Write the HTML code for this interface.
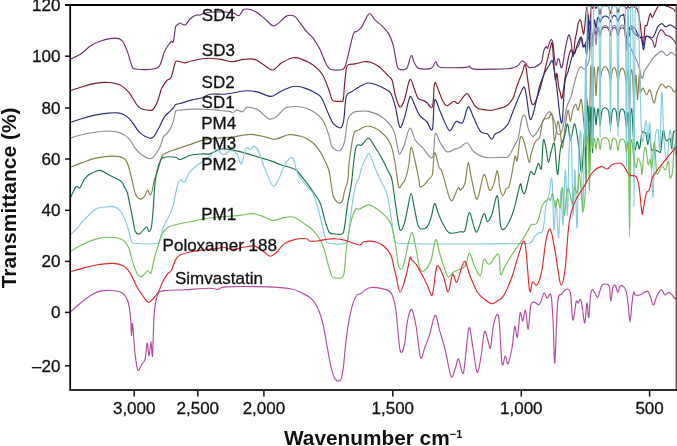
<!DOCTYPE html>
<html><head><meta charset="utf-8"><style>
html,body{margin:0;padding:0;background:#fff;}
svg{display:block;}
svg{will-change:transform}
text{font-family:"Liberation Sans",sans-serif;fill:#111;}
</style></head><body>
<svg width="677" height="446" viewBox="0 0 677 446">
<defs><clipPath id="pc"><rect x="70" y="4.5" width="606" height="385"/></clipPath></defs>
<g clip-path="url(#pc)" fill="none" stroke-width="1.15" stroke-linejoin="round">
<path d="M70.00,59.50C71.92,58.48 78.10,55.65 81.50,53.40C84.90,51.15 87.05,48.10 90.40,46.00C93.75,43.90 97.67,42.12 101.60,40.80C105.53,39.48 110.63,38.17 114.00,38.10C117.37,38.03 119.57,38.15 121.80,40.40C124.03,42.65 125.72,47.32 127.40,51.60C129.08,55.88 130.58,63.20 131.90,66.10C133.22,69.00 131.90,68.52 135.30,69.00C138.85,69.48 149.10,69.67 153.20,69.00C157.30,68.33 158.03,67.90 159.90,65.00C161.77,62.10 163.08,54.77 164.40,51.60C165.72,48.43 166.68,47.68 167.80,46.00C168.92,44.32 170.17,42.25 171.10,41.50C172.03,40.75 172.65,43.93 173.40,41.50C174.15,39.07 174.85,29.70 175.60,26.90C176.35,24.10 177.17,25.35 177.90,24.70C178.63,24.05 178.82,22.95 180.00,23.00C181.18,23.05 183.33,25.67 185.00,25.00C186.67,24.33 188.20,20.63 190.00,19.00C191.80,17.37 194.13,15.87 195.80,15.20C197.47,14.53 198.47,15.37 200.00,15.00C201.53,14.63 202.50,13.50 205.00,13.00C207.50,12.50 211.67,12.17 215.00,12.00C218.33,11.83 222.17,11.83 225.00,12.00C227.83,12.17 230.38,12.75 232.00,13.00C233.62,13.25 233.52,13.05 234.70,13.50C235.88,13.95 237.72,16.28 239.10,15.70C240.48,15.12 241.68,11.12 243.00,10.00C244.32,8.88 245.03,8.80 247.00,9.00C248.97,9.20 252.00,9.72 254.80,11.20C257.60,12.68 260.80,15.47 263.80,17.90C266.80,20.33 270.18,25.05 272.80,25.80C275.42,26.55 277.27,24.02 279.50,22.40C281.73,20.78 283.77,17.15 286.20,16.10C288.63,15.05 291.85,15.05 294.10,16.10C296.35,17.15 297.65,19.85 299.70,22.40C301.75,24.95 304.17,28.78 306.40,31.40C308.63,34.02 310.85,35.12 313.10,38.10C315.35,41.08 317.65,44.82 319.90,49.30C322.15,53.78 324.73,61.63 326.60,65.00C328.47,68.37 328.48,68.75 331.10,69.50C333.72,70.25 339.88,70.25 342.30,69.50C344.72,68.75 344.48,67.98 345.60,65.00C346.72,62.02 347.68,56.83 349.00,51.60C350.32,46.37 352.13,36.97 353.50,33.60C354.87,30.23 355.83,32.52 357.20,31.40C358.57,30.28 360.38,28.77 361.70,26.90C363.02,25.03 363.78,22.43 365.10,20.20C366.42,17.97 367.92,13.50 369.60,13.50C371.28,13.50 373.15,18.15 375.20,20.20C377.25,22.25 379.67,23.57 381.90,25.80C384.13,28.03 386.73,30.43 388.60,33.60C390.47,36.77 391.78,39.93 393.10,44.80C394.42,49.67 395.57,58.75 396.50,62.80C397.43,66.85 397.02,68.17 398.70,69.10C400.38,70.03 404.53,70.65 406.60,68.40C408.67,66.15 409.80,56.53 411.10,55.60C412.40,54.67 413.10,60.67 414.40,62.80C415.70,64.93 416.10,67.47 418.90,68.40C421.70,69.33 428.40,69.52 431.20,68.40C434.00,67.28 434.20,61.88 435.70,61.70C437.20,61.52 435.70,66.37 440.20,67.30C445.43,68.23 462.25,67.50 467.10,67.30C469.30,67.10 468.18,65.80 469.30,66.10C470.42,66.40 469.52,68.60 473.80,69.10C478.08,69.60 488.85,69.22 495.00,69.10C501.15,68.98 506.97,68.90 510.70,68.40C514.43,67.90 515.53,67.33 517.40,66.10C519.27,64.87 520.58,61.55 521.90,61.00C523.22,60.45 524.18,61.75 525.30,62.80C526.42,63.85 527.30,66.55 528.60,67.30C529.90,68.05 532.03,67.33 533.10,67.30C534.17,67.27 533.90,67.65 535.00,67.10C536.10,66.55 538.53,65.05 539.70,64.00C540.87,62.95 541.35,62.90 542.00,60.80C542.65,58.70 542.93,53.75 543.60,51.40C544.27,49.05 545.33,47.22 546.00,46.70C546.67,46.18 546.95,49.08 547.60,48.30C548.25,47.52 549.25,43.45 549.90,42.00C550.55,40.55 550.98,39.35 551.50,39.60C552.02,39.85 552.48,40.23 553.00,43.50C553.52,46.77 554.07,55.53 554.60,59.20C555.13,62.87 555.67,65.50 556.20,65.50C556.73,65.50 557.28,60.12 557.80,59.20C558.32,58.28 558.78,58.68 559.30,60.00C559.82,61.32 560.37,66.18 560.90,67.10C561.43,68.02 561.85,68.12 562.50,65.50C563.15,62.88 564.15,55.07 564.80,51.40C565.45,47.73 565.73,46.25 566.40,43.50C567.07,40.75 568.02,35.15 568.80,34.90C569.58,34.65 570.45,38.47 571.10,42.00C571.75,45.53 572.18,54.27 572.70,56.10C573.22,57.93 573.55,54.30 574.20,53.00C574.85,51.70 575.80,49.62 576.60,48.30C577.40,46.98 578.22,46.93 579.00,45.10C579.78,43.27 580.52,37.03 581.30,37.30C582.08,37.57 582.92,45.92 583.70,46.70C584.48,47.48 585.20,43.45 586.00,42.00C586.80,40.55 587.60,39.40 588.50,38.00C589.40,36.60 590.82,33.07 591.40,33.60C591.98,34.13 591.82,39.27 592.00,41.17C592.18,43.08 592.33,44.99 592.50,45.02C592.67,45.05 592.83,42.97 593.00,41.34C593.17,39.71 593.33,37.04 593.50,35.25C593.67,33.45 593.83,31.60 594.00,30.58C594.17,29.56 594.33,29.14 594.50,29.12C594.67,29.09 594.83,29.77 595.00,30.42C595.17,31.07 595.33,32.24 595.50,33.02C595.67,33.80 595.83,35.08 596.00,35.10C596.17,35.13 596.33,33.93 596.50,33.17C596.67,32.40 596.83,31.29 597.00,30.51C597.17,29.73 597.33,28.93 597.50,28.48C597.67,28.02 597.83,27.76 598.00,27.77C598.17,27.77 598.33,28.04 598.50,28.50C598.67,28.96 598.83,29.77 599.00,30.56C599.17,31.35 599.33,32.47 599.50,33.24C599.67,34.01 599.83,35.07 600.00,35.20C600.17,35.32 600.33,34.52 600.50,33.96C600.67,33.40 600.83,32.50 601.00,31.83C601.17,31.17 601.33,30.47 601.50,29.98C601.67,29.48 601.83,29.15 602.00,28.86C602.17,28.58 602.33,28.44 602.50,28.28C602.67,28.13 602.83,28.03 603.00,27.93C603.17,27.83 603.33,27.76 603.50,27.68C603.67,27.61 603.83,27.55 604.00,27.50C604.17,27.45 604.33,27.41 604.50,27.38C604.67,27.35 604.83,27.33 605.00,27.33C605.17,27.32 605.33,27.32 605.50,27.34C605.67,27.35 605.83,27.38 606.00,27.42C606.17,27.45 606.33,27.50 606.50,27.56C606.67,27.62 606.83,27.69 607.00,27.77C607.17,27.85 607.33,27.93 607.50,28.04C607.67,28.15 607.83,28.25 608.00,28.41C608.17,28.58 608.33,28.73 608.50,29.02C608.67,29.31 608.83,29.66 609.00,30.16C609.17,30.66 609.33,31.37 609.50,32.04C609.67,32.71 609.83,33.63 610.00,34.20C610.17,34.76 610.33,35.48 610.50,35.45C610.67,35.43 610.83,34.66 611.00,34.04C611.17,33.43 611.33,32.46 611.50,31.75C611.67,31.04 611.83,30.30 612.00,29.77C612.17,29.24 612.33,28.88 612.50,28.58C612.67,28.28 612.83,28.13 613.00,27.98C613.17,27.83 613.33,27.75 613.50,27.68C613.67,27.61 613.83,27.57 614.00,27.55C614.17,27.54 614.33,27.54 614.50,27.57C614.67,27.59 614.83,27.64 615.00,27.72C615.17,27.80 615.33,27.88 615.50,28.04C615.67,28.20 615.83,28.36 616.00,28.67C616.17,28.97 616.33,29.35 616.50,29.88C616.67,30.42 616.83,31.17 617.00,31.89C617.17,32.61 617.33,33.58 617.50,34.20C617.67,34.83 617.83,35.62 618.00,35.63C618.17,35.65 618.33,34.89 618.50,34.30C618.67,33.70 618.83,32.76 619.00,32.07C619.17,31.38 619.33,30.66 619.50,30.14C619.67,29.62 619.83,29.27 620.00,28.97C620.17,28.68 620.33,28.52 620.50,28.37C620.67,28.21 620.83,28.12 621.00,28.03C621.17,27.94 621.33,27.88 621.50,27.84C621.67,27.79 621.83,27.76 622.00,27.74C622.17,27.73 622.33,27.74 622.50,27.76C622.67,27.78 622.83,27.81 623.00,27.87C623.17,27.93 623.33,27.99 623.50,28.11C623.67,28.23 623.83,28.32 624.00,28.58C624.17,28.85 624.33,29.07 624.50,29.70C624.67,30.34 624.83,31.12 625.00,32.37C625.17,33.62 625.33,35.47 625.50,37.22C625.67,38.98 625.83,41.45 626.00,42.89C626.17,44.33 626.33,45.99 626.50,45.85C626.67,45.71 626.83,43.66 627.00,42.03C627.17,40.40 627.33,37.73 627.50,36.07C627.67,34.41 627.83,32.79 628.00,32.07C628.17,31.35 628.33,31.43 628.50,31.72C628.67,32.01 628.83,33.10 629.00,33.80C629.17,34.50 629.33,35.89 629.50,35.94C629.67,35.99 629.83,34.85 630.00,34.11C630.17,33.37 630.33,32.29 630.50,31.51C630.67,30.73 630.83,29.93 631.00,29.41C631.17,28.89 631.33,28.55 631.50,28.39C631.67,28.22 631.83,28.22 632.00,28.40C632.17,28.57 632.33,28.92 632.50,29.45C632.67,29.98 632.83,31.09 633.00,31.57C633.17,32.04 633.00,31.28 633.50,32.30C634.70,33.32 637.97,37.03 640.20,37.70C642.43,38.37 644.88,35.85 646.90,36.30C648.92,36.75 650.95,38.60 652.30,40.40C653.65,42.20 654.22,47.55 655.00,47.10C655.78,46.65 656.22,40.38 657.00,37.70C657.78,35.02 658.80,32.23 659.70,31.00C660.60,29.77 661.38,29.63 662.40,30.30C663.42,30.97 664.57,34.00 665.80,35.00C667.03,36.00 668.47,35.40 669.80,36.30C671.13,37.20 672.68,39.05 673.80,40.40C674.92,41.75 676.05,43.73 676.50,44.40" stroke="#6d3270" />
<path d="M70.00,90.80C71.92,90.17 77.35,88.23 81.50,87.00C85.65,85.77 90.42,84.15 94.90,83.40C99.38,82.65 104.28,82.27 108.40,82.50C112.52,82.73 116.25,83.23 119.60,84.80C122.95,86.37 126.27,89.58 128.50,91.90C130.73,94.22 131.50,96.40 133.00,98.70C134.50,101.00 136.00,103.98 137.50,105.70C139.00,107.42 140.13,108.25 142.00,109.00C143.87,109.75 146.87,110.12 148.70,110.20C150.53,110.28 151.50,111.03 153.00,109.50C154.50,107.97 156.37,104.25 157.70,101.00C159.03,97.75 160.25,92.27 161.00,90.00C161.75,87.73 161.25,88.95 162.20,87.40C163.15,85.85 165.22,82.37 166.70,80.70C168.18,79.03 169.80,80.02 171.10,77.40C172.40,74.78 173.57,67.73 174.50,65.00C175.43,62.27 175.02,61.37 176.70,61.00C178.38,60.63 182.17,62.80 184.60,62.80C187.03,62.80 188.32,61.68 191.30,61.00C194.28,60.32 199.38,59.15 202.50,58.70C205.62,58.25 206.88,58.18 210.00,58.30C213.12,58.42 217.47,58.83 221.20,59.40C224.93,59.97 228.67,61.70 232.40,61.70C236.13,61.70 239.87,59.78 243.60,59.40C247.33,59.02 251.43,58.47 254.80,59.40C258.17,60.33 260.80,63.23 263.80,65.00C266.80,66.77 269.82,70.37 272.80,70.00C275.78,69.63 278.33,64.83 281.70,62.80C285.07,60.77 289.63,58.37 293.00,57.80C296.37,57.23 298.55,58.20 301.90,59.40C305.25,60.60 309.73,62.57 313.10,65.00C316.47,67.43 319.48,69.88 322.10,74.00C324.72,78.12 327.12,85.37 328.80,89.70C330.48,94.03 331.00,98.08 332.20,100.00C333.40,101.92 334.70,101.00 336.00,101.20C337.30,101.40 338.80,101.40 340.00,101.20C341.20,101.00 342.45,102.70 343.20,100.00C343.95,97.30 343.95,90.33 344.50,85.00C345.05,79.67 345.75,71.42 346.50,68.00C347.25,64.58 347.58,65.18 349.00,64.50C350.42,63.82 352.50,64.37 355.00,63.90C357.50,63.43 361.38,61.97 364.00,61.70C366.62,61.43 368.08,61.37 370.70,62.30C373.32,63.23 376.72,64.98 379.70,67.30C382.68,69.62 386.55,74.08 388.60,76.20C390.65,78.32 391.07,77.75 392.00,80.00C392.93,82.25 393.63,87.08 394.20,89.70C394.77,92.32 394.47,92.83 395.40,95.70C396.33,98.57 398.32,106.15 399.80,106.90C401.28,107.65 402.80,104.32 404.30,100.20C405.80,96.08 407.67,85.57 408.80,82.20C409.93,78.83 410.17,78.87 411.10,80.00C412.03,81.13 413.28,86.02 414.40,89.00C415.52,91.98 416.48,96.03 417.80,97.90C419.12,99.77 420.82,99.45 422.30,100.20C423.78,100.95 425.02,101.28 426.70,102.40C428.38,103.52 431.08,110.07 432.40,106.90C433.72,103.73 433.67,86.38 434.60,83.40C435.53,80.42 436.70,86.20 438.00,89.00C439.30,91.80 440.92,97.40 442.40,100.20C443.88,103.00 445.02,105.62 446.90,105.80C448.78,105.98 451.83,101.68 453.70,101.30C455.57,100.92 456.62,104.07 458.10,103.50C459.58,102.93 461.10,99.57 462.60,97.90C464.10,96.23 465.60,93.12 467.10,93.50C468.60,93.88 469.92,97.78 471.60,100.20C473.28,102.62 474.22,106.32 477.20,108.00C480.18,109.68 486.53,110.05 489.50,110.30C492.47,110.55 492.22,110.20 495.00,109.50C497.78,108.80 503.22,107.97 506.20,106.10C509.18,104.23 511.03,101.85 512.90,98.30C514.77,94.75 515.90,88.92 517.40,84.80C518.90,80.68 520.58,76.95 521.90,73.60C523.22,70.25 524.37,63.95 525.30,64.70C526.23,65.45 526.57,72.13 527.50,78.10C528.43,84.07 529.78,96.20 530.90,100.50C532.02,104.80 532.73,105.65 534.20,103.90C535.67,102.15 538.00,95.35 539.70,90.00C541.40,84.65 542.97,77.45 544.40,71.80C545.83,66.15 547.25,60.28 548.30,56.10C549.35,51.92 550.03,48.80 550.70,46.70C551.37,44.60 551.78,40.62 552.30,43.50C552.82,46.38 553.28,57.97 553.80,64.00C554.32,70.03 554.87,78.13 555.40,79.70C555.93,81.27 556.48,72.35 557.00,73.40C557.52,74.45 557.98,82.90 558.50,86.00C559.02,89.10 559.52,90.00 560.10,92.00C560.68,94.00 561.22,100.05 562.00,98.00C562.78,95.95 564.07,84.58 564.80,79.70C565.53,74.82 565.73,72.63 566.40,68.70C567.07,64.77 568.02,59.25 568.80,56.10C569.58,52.95 570.32,50.32 571.10,49.80C571.88,49.28 572.85,54.57 573.50,53.00C574.15,51.43 574.48,43.80 575.00,40.40C575.52,37.00 576.07,35.48 576.60,32.60C577.13,29.72 577.55,25.20 578.20,23.10C578.85,21.00 579.85,19.22 580.50,20.00C581.15,20.78 581.57,25.45 582.10,27.80C582.63,30.15 583.23,34.62 583.70,34.10C584.17,33.58 584.37,29.27 584.90,24.70C585.43,20.13 586.18,6.65 586.90,6.70C587.62,6.75 588.45,25.00 589.20,25.00C589.95,25.00 590.93,9.58 591.40,6.70C591.87,3.82 591.82,7.41 592.00,7.71C592.18,8.01 592.33,8.50 592.50,8.50C592.67,8.51 592.83,8.05 593.00,7.75C593.17,7.46 593.33,7.02 593.50,6.74C593.67,6.46 593.83,6.18 594.00,6.07C594.17,5.96 594.33,5.96 594.50,6.07C594.67,6.18 594.83,6.46 595.00,6.74C595.17,7.02 595.33,7.46 595.50,7.75C595.67,8.04 595.83,8.49 596.00,8.50C596.17,8.51 596.33,8.08 596.50,7.80C596.67,7.52 596.83,7.09 597.00,6.81C597.17,6.52 597.33,6.21 597.50,6.10C597.67,5.99 597.83,5.93 598.00,6.12C598.17,6.32 598.33,6.67 598.50,7.28C598.67,7.89 598.83,8.86 599.00,9.79C599.17,10.72 599.33,12.06 599.50,12.84C599.67,13.63 599.83,14.46 600.00,14.50C600.17,14.54 600.33,13.79 600.50,13.08C600.67,12.36 600.83,11.09 601.00,10.20C601.17,9.31 601.33,8.37 601.50,7.74C601.67,7.12 601.83,6.74 602.00,6.43C602.17,6.13 602.33,6.04 602.50,5.92C602.67,5.81 602.83,5.78 603.00,5.73C603.17,5.69 603.33,5.66 603.50,5.64C603.67,5.61 603.83,5.59 604.00,5.57C604.17,5.55 604.33,5.54 604.50,5.53C604.67,5.51 604.83,5.51 605.00,5.50C605.17,5.50 605.33,5.50 605.50,5.50C605.67,5.51 605.83,5.51 606.00,5.53C606.17,5.54 606.33,5.55 606.50,5.57C606.67,5.59 606.83,5.61 607.00,5.64C607.17,5.66 607.33,5.69 607.50,5.73C607.67,5.78 607.83,5.80 608.00,5.91C608.17,6.02 608.33,6.10 608.50,6.37C608.67,6.64 608.83,6.98 609.00,7.53C609.17,8.09 609.33,8.92 609.50,9.70C609.67,10.48 609.83,11.60 610.00,12.24C610.17,12.87 610.33,13.51 610.50,13.50C610.67,13.49 610.83,12.83 611.00,12.18C611.17,11.52 611.33,10.39 611.50,9.59C611.67,8.79 611.83,7.95 612.00,7.38C612.17,6.81 612.33,6.47 612.50,6.19C612.67,5.92 612.83,5.83 613.00,5.73C613.17,5.62 613.33,5.60 613.50,5.56C613.67,5.53 613.83,5.52 614.00,5.51C614.17,5.50 614.33,5.50 614.50,5.51C614.67,5.52 614.83,5.53 615.00,5.56C615.17,5.59 615.33,5.62 615.50,5.71C615.67,5.81 615.83,5.89 616.00,6.13C616.17,6.37 616.33,6.68 616.50,7.17C616.67,7.66 616.83,8.40 617.00,9.09C617.17,9.78 617.33,10.77 617.50,11.34C617.67,11.90 617.83,12.50 618.00,12.50C618.17,12.50 618.33,11.92 618.50,11.36C618.67,10.80 618.83,9.82 619.00,9.13C619.17,8.45 619.33,7.72 619.50,7.23C619.67,6.74 619.83,6.44 620.00,6.20C620.17,5.96 620.33,5.88 620.50,5.78C620.67,5.68 620.83,5.66 621.00,5.62C621.17,5.58 621.33,5.56 621.50,5.54C621.67,5.52 621.83,5.51 622.00,5.50C622.17,5.50 622.33,5.50 622.50,5.50C622.67,5.51 622.83,5.52 623.00,5.54C623.17,5.56 623.33,5.58 623.50,5.61C623.67,5.64 623.83,5.67 624.00,5.73C624.17,5.79 624.33,5.84 624.50,5.95C624.67,6.06 624.83,6.19 625.00,6.39C625.17,6.59 625.33,6.87 625.50,7.14C625.67,7.41 625.83,7.77 626.00,8.00C626.17,8.23 626.33,8.55 626.50,8.50C626.67,8.46 626.83,8.00 627.00,7.71C627.17,7.42 627.33,6.99 627.50,6.76C627.67,6.53 627.68,6.13 628.00,6.34C628.32,6.55 628.72,7.94 629.40,8.00C630.08,8.06 630.75,6.47 632.10,6.70C633.45,6.93 636.15,6.48 637.50,9.40C638.85,12.32 639.42,19.03 640.20,24.20C640.98,29.37 641.63,37.03 642.20,40.40C642.77,43.77 643.15,46.65 643.60,44.40C644.05,42.15 644.35,30.03 644.90,26.90C645.45,23.77 646.33,26.72 646.90,25.60C647.47,24.48 647.73,22.22 648.30,20.20C648.87,18.18 649.63,13.95 650.30,13.50C650.97,13.05 651.52,17.73 652.30,17.50C653.08,17.27 654.22,13.67 655.00,12.10C655.78,10.53 656.33,9.20 657.00,8.10C657.67,7.00 657.77,5.93 659.00,5.50C660.23,5.07 662.82,5.30 664.40,5.50C665.98,5.70 666.93,6.05 668.50,6.70C670.07,7.35 672.68,8.50 673.80,9.40C674.92,10.30 674.97,11.65 675.20,12.10" stroke="#801828" />
<path d="M70.00,122.50C71.92,121.87 77.35,119.93 81.50,118.70C85.65,117.47 90.42,116.03 94.90,115.10C99.38,114.17 104.28,113.43 108.40,113.10C112.52,112.77 116.43,112.47 119.60,113.10C122.77,113.73 124.98,114.95 127.40,116.90C129.82,118.85 132.05,122.18 134.10,124.80C136.15,127.42 137.08,130.37 139.70,132.60C142.32,134.83 147.37,137.63 149.80,138.20C152.23,138.77 152.62,138.05 154.30,136.00C155.98,133.95 158.22,129.08 159.90,125.90C161.58,122.72 162.72,119.33 164.40,116.90C166.08,114.47 168.50,112.80 170.00,111.30C171.50,109.80 172.47,109.02 173.40,107.90C174.33,106.78 174.48,105.33 175.60,104.60C176.72,103.87 177.48,104.25 180.10,103.50C182.72,102.75 187.57,101.05 191.30,100.10C195.03,99.15 199.38,98.78 202.50,97.80C205.62,96.82 206.50,94.80 210.00,94.20C213.50,93.60 219.77,94.40 223.50,94.20C227.23,94.00 228.67,93.57 232.40,93.00C236.13,92.43 241.78,90.98 245.90,90.80C250.02,90.62 253.00,90.97 257.10,91.90C261.20,92.83 267.13,96.15 270.50,96.40C273.87,96.65 275.05,94.52 277.30,93.40C279.55,92.28 281.02,90.88 284.00,89.70C286.98,88.52 291.47,86.48 295.20,86.30C298.93,86.12 302.67,87.28 306.40,88.60C310.13,89.92 314.98,92.47 317.60,94.20C320.22,95.93 320.23,95.58 322.10,99.00C323.97,102.42 326.93,110.60 328.80,114.70C330.67,118.80 331.38,121.38 333.30,123.60C335.22,125.82 338.77,127.77 340.30,128.00C341.83,128.23 341.90,126.50 342.50,125.00C343.10,123.50 343.37,123.27 343.90,119.00C344.43,114.73 345.10,103.57 345.70,99.40C346.30,95.23 346.45,95.33 347.50,94.00C348.55,92.67 350.08,92.58 352.00,91.40C353.92,90.22 356.33,88.30 359.00,86.90C361.67,85.50 365.00,83.32 368.00,83.00C371.00,82.68 374.00,83.90 377.00,85.00C380.00,86.10 383.68,88.18 386.00,89.60C388.32,91.02 389.33,90.62 390.90,93.50C392.47,96.38 393.92,101.30 395.40,106.90C396.88,112.50 398.32,125.23 399.80,127.10C401.28,128.97 402.80,122.58 404.30,118.10C405.80,113.62 407.67,103.75 408.80,100.20C409.93,96.65 409.98,95.68 411.10,96.80C412.22,97.92 414.02,103.72 415.50,106.90C416.98,110.08 418.13,113.47 420.00,115.90C421.87,118.33 424.63,119.27 426.70,121.50C428.77,123.73 431.08,132.85 432.40,129.30C433.72,125.75 433.30,103.18 434.60,100.20C435.90,97.22 437.77,106.37 440.20,111.40C442.63,116.43 446.58,128.72 449.20,130.40C451.82,132.08 453.67,122.80 455.90,121.50C458.13,120.20 460.55,125.03 462.60,122.60C464.65,120.17 466.33,107.65 468.20,106.90C470.07,106.15 471.73,113.98 473.80,118.10C475.87,122.22 478.35,128.98 480.60,131.60C482.85,134.22 485.43,132.50 487.30,133.80C489.17,135.10 490.52,139.33 491.80,139.40C493.08,139.47 493.72,135.45 495.00,134.20C496.28,132.95 498.00,132.83 499.50,131.90C501.00,130.97 502.50,130.08 504.00,128.60C505.50,127.12 507.02,125.82 508.50,123.00C509.98,120.18 511.42,115.45 512.90,111.70C514.38,107.95 516.08,103.67 517.40,100.50C518.72,97.33 519.68,94.93 520.80,92.70C521.92,90.47 523.17,86.55 524.10,87.10C525.03,87.65 525.45,90.77 526.40,96.00C527.35,101.23 528.68,115.50 529.80,118.50C530.92,121.50 531.80,117.92 533.10,114.00C534.40,110.08 536.50,99.67 537.60,95.00C538.70,90.33 538.57,89.60 539.70,86.00C540.83,82.40 542.83,76.82 544.40,73.40C545.97,69.98 547.78,67.60 549.10,65.50C550.42,63.40 551.38,59.75 552.30,60.80C553.22,61.85 553.82,67.10 554.60,71.80C555.38,76.50 556.10,81.60 557.00,89.00C557.90,96.40 559.12,110.92 560.00,116.20C560.88,121.48 561.50,126.27 562.30,120.70C563.10,115.13 563.85,90.95 564.80,82.80C565.75,74.65 567.08,75.07 568.00,71.80C568.92,68.53 569.52,66.08 570.30,63.20C571.08,60.32 571.92,56.20 572.70,54.50C573.48,52.80 574.35,54.30 575.00,53.00C575.65,51.70 575.93,48.80 576.60,46.70C577.27,44.60 578.22,41.97 579.00,40.40C579.78,38.83 580.65,36.25 581.30,37.30C581.95,38.35 582.25,45.40 582.90,46.70C583.55,48.00 584.53,43.97 585.20,45.10C585.87,46.23 586.43,58.12 586.90,53.50C587.37,48.88 587.73,22.84 588.00,17.37C588.27,11.90 588.33,17.61 588.50,20.68C588.67,23.76 588.83,30.77 589.00,35.82C589.17,40.87 589.33,50.97 589.50,50.97C589.67,50.96 589.83,40.68 590.00,35.82C590.17,30.95 590.33,24.03 590.50,21.76C590.67,19.50 590.83,20.88 591.00,22.22C591.17,23.56 591.33,26.90 591.50,29.83C591.67,32.76 591.83,37.14 592.00,39.79C592.17,42.45 592.33,45.71 592.50,45.75C592.67,45.79 592.83,42.62 593.00,40.02C593.17,37.42 593.33,33.07 593.50,30.16C593.67,27.24 593.83,24.20 594.00,22.50C594.17,20.81 594.33,20.09 594.50,19.97C594.67,19.85 594.83,20.86 595.00,21.80C595.17,22.75 595.33,24.50 595.50,25.62C595.67,26.75 595.83,28.54 596.00,28.56C596.17,28.58 596.33,26.87 596.50,25.72C596.67,24.57 596.83,22.88 597.00,21.67C597.17,20.46 597.33,19.25 597.50,18.48C597.67,17.71 597.83,17.27 598.00,17.07C598.17,16.86 598.33,16.99 598.50,17.24C598.67,17.50 598.83,18.03 599.00,18.57C599.17,19.12 599.33,19.89 599.50,20.51C599.67,21.14 599.83,22.19 600.00,22.33C600.17,22.48 600.33,21.76 600.50,21.39C600.67,21.02 600.83,20.51 601.00,20.10C601.17,19.69 601.33,19.27 601.50,18.93C601.67,18.60 601.83,18.33 602.00,18.09C602.17,17.85 602.33,17.67 602.50,17.50C602.67,17.32 602.83,17.18 603.00,17.04C603.17,16.91 603.33,16.78 603.50,16.68C603.67,16.57 603.83,16.47 604.00,16.39C604.17,16.31 604.33,16.24 604.50,16.18C604.67,16.13 604.83,16.09 605.00,16.07C605.17,16.04 605.33,16.03 605.50,16.04C605.67,16.04 605.83,16.07 606.00,16.10C606.17,16.14 606.33,16.19 606.50,16.25C606.67,16.31 606.83,16.39 607.00,16.48C607.17,16.57 607.33,16.67 607.50,16.79C607.67,16.91 607.83,17.04 608.00,17.19C608.17,17.35 608.33,17.51 608.50,17.73C608.67,17.95 608.83,18.20 609.00,18.52C609.17,18.83 609.33,19.23 609.50,19.63C609.67,20.02 609.83,20.51 610.00,20.86C610.17,21.22 610.33,21.80 610.50,21.75C610.67,21.70 610.83,21.02 611.00,20.57C611.17,20.12 611.33,19.54 611.50,19.07C611.67,18.59 611.83,18.11 612.00,17.73C612.17,17.36 612.33,17.05 612.50,16.79C612.67,16.53 612.83,16.34 613.00,16.17C613.17,16.01 613.33,15.88 613.50,15.78C613.67,15.68 613.83,15.62 614.00,15.58C614.17,15.54 614.33,15.53 614.50,15.55C614.67,15.57 614.83,15.62 615.00,15.70C615.17,15.78 615.33,15.88 615.50,16.03C615.67,16.18 615.83,16.35 616.00,16.60C616.17,16.84 616.33,17.12 616.50,17.48C616.67,17.85 616.83,18.31 617.00,18.76C617.17,19.21 617.33,19.78 617.50,20.21C617.67,20.64 617.83,21.33 618.00,21.33C618.17,21.34 618.33,20.67 618.50,20.25C618.67,19.83 618.83,19.28 619.00,18.83C619.17,18.38 619.33,17.93 619.50,17.56C619.67,17.20 619.83,16.91 620.00,16.65C620.17,16.40 620.33,16.21 620.50,16.03C620.67,15.85 620.83,15.71 621.00,15.59C621.17,15.47 621.33,15.37 621.50,15.29C621.67,15.22 621.83,15.16 622.00,15.13C622.17,15.10 622.33,15.09 622.50,15.10C622.67,15.11 622.83,15.15 623.00,15.21C623.17,15.27 623.33,15.35 623.50,15.45C623.67,15.56 623.50,11.91 624.00,15.83C624.55,19.76 625.80,37.14 626.80,39.00C627.80,40.86 629.00,29.02 630.00,27.00C631.00,24.98 632.00,26.68 632.80,26.90C633.60,27.12 634.02,27.18 634.80,28.30C635.58,29.42 636.38,31.82 637.50,33.60C638.62,35.38 640.48,36.30 641.50,39.00C642.52,41.70 642.92,50.02 643.60,49.80C644.28,49.58 644.82,39.95 645.60,37.70C646.38,35.45 647.18,36.30 648.30,36.30C649.42,36.30 651.18,38.15 652.30,37.70C653.42,37.25 654.10,35.40 655.00,33.60C655.90,31.80 656.58,28.57 657.70,26.90C658.82,25.23 660.35,23.60 661.70,23.60C663.05,23.60 664.45,26.68 665.80,26.90C667.15,27.12 668.47,24.90 669.80,24.90C671.13,24.90 672.68,26.23 673.80,26.90C674.92,27.57 676.05,28.57 676.50,28.90" stroke="#282c78" />
<path d="M70.00,138.20C71.92,137.63 77.35,135.80 81.50,134.80C85.65,133.80 90.42,132.83 94.90,132.20C99.38,131.57 104.28,130.93 108.40,131.00C112.52,131.07 116.25,131.40 119.60,132.60C122.95,133.80 125.88,135.58 128.50,138.20C131.12,140.82 133.05,145.50 135.30,148.30C137.55,151.10 139.77,153.32 142.00,155.00C144.23,156.68 146.83,158.02 148.70,158.40C150.57,158.78 151.33,159.17 153.20,157.30C155.07,155.43 158.22,150.57 159.90,147.20C161.58,143.83 162.17,139.35 163.30,137.10C164.43,134.85 165.58,135.02 166.70,133.70C167.82,132.38 168.88,131.25 170.00,129.20C171.12,127.15 172.47,124.38 173.40,121.40C174.33,118.42 174.48,113.17 175.60,111.30C176.72,109.43 177.10,110.57 180.10,110.20C183.10,109.83 188.62,109.22 193.60,109.10C198.58,108.98 205.60,109.27 210.00,109.50C214.40,109.73 216.67,110.18 220.00,110.50C223.33,110.82 227.88,111.03 230.00,111.40C232.12,111.77 231.52,112.92 232.70,112.70C233.88,112.48 235.48,110.25 237.10,110.10C238.72,109.95 240.78,112.25 242.40,111.80C244.02,111.35 244.88,107.98 246.80,107.40C248.72,106.82 251.97,107.85 253.90,108.30C255.83,108.75 256.77,109.00 258.40,110.10C260.03,111.20 261.93,113.43 263.70,114.90C265.47,116.37 267.38,118.30 269.00,118.90C270.62,119.50 271.92,119.08 273.40,118.50C274.88,117.92 276.27,116.88 277.90,115.40C279.53,113.92 281.43,111.00 283.20,109.60C284.97,108.20 285.75,107.47 288.50,107.00C291.25,106.53 295.97,106.27 299.70,106.80C303.43,107.33 307.17,108.15 310.90,110.20C314.63,112.25 319.12,115.00 322.10,119.10C325.08,123.20 327.12,130.12 328.80,134.80C330.48,139.48 330.33,144.58 332.20,147.20C334.07,149.82 337.95,151.43 340.00,150.50C342.05,149.57 343.18,146.83 344.50,141.60C345.82,136.37 346.40,123.97 347.90,119.10C349.40,114.23 351.48,113.70 353.50,112.40C355.52,111.10 357.50,111.47 360.00,111.30C362.50,111.13 364.85,110.45 368.50,111.40C372.15,112.35 377.80,114.02 381.90,117.00C386.00,119.98 390.48,124.25 393.10,129.30C395.72,134.35 396.48,143.18 397.60,147.30C398.72,151.42 398.68,154.38 399.80,154.00C400.92,153.62 402.62,149.30 404.30,145.00C405.98,140.70 408.03,128.95 409.90,128.20C411.77,127.45 413.43,137.32 415.50,140.50C417.57,143.68 419.48,144.48 422.30,147.30C425.12,150.12 430.23,159.65 432.40,157.40C434.57,155.15 434.00,136.23 435.30,133.80C436.60,131.37 438.27,139.82 440.20,142.80C442.13,145.78 444.65,150.58 446.90,151.70C449.15,152.82 451.45,150.23 453.70,149.50C455.95,148.77 458.17,148.42 460.40,147.30C462.63,146.18 464.87,142.07 467.10,142.80C469.33,143.53 470.82,149.27 473.80,151.70C476.78,154.13 480.63,156.47 485.00,157.40C489.37,158.33 496.32,157.32 500.00,157.30C503.68,157.28 505.42,157.80 507.10,157.30C508.78,156.80 508.93,156.15 510.10,154.30C511.27,152.45 512.75,148.88 514.10,146.20C515.45,143.52 516.90,142.82 518.20,138.20C519.50,133.58 520.72,122.17 521.90,118.50C523.08,114.83 524.18,114.33 525.30,116.20C526.42,118.07 527.30,126.33 528.60,129.70C529.90,133.07 531.23,136.78 533.10,136.40C534.97,136.02 537.75,130.77 539.80,127.40C541.85,124.03 543.72,118.82 545.40,116.20C547.08,113.58 548.40,110.95 549.90,111.70C551.40,112.45 553.08,116.95 554.40,120.70C555.72,124.45 556.48,132.70 557.80,134.20C559.12,135.70 560.82,134.18 562.30,129.70C563.78,125.22 565.22,112.92 566.70,107.30C568.18,101.68 569.70,100.87 571.20,96.00C572.70,91.13 574.20,82.95 575.70,78.10C577.20,73.25 578.70,68.40 580.20,66.90C581.70,65.40 583.20,70.22 584.70,69.10C586.20,67.98 588.32,63.43 589.20,60.20C590.00,56.97 589.78,53.06 590.00,49.70C590.22,46.33 590.33,42.60 590.50,40.01C590.67,37.42 590.83,34.95 591.00,34.15C591.17,33.34 591.33,34.11 591.50,35.18C591.67,36.24 591.83,38.91 592.00,40.54C592.17,42.18 592.33,44.98 592.50,44.99C592.67,44.99 592.83,42.35 593.00,40.55C593.17,38.75 593.33,35.96 593.50,34.17C593.67,32.38 593.83,30.55 594.00,29.83C594.17,29.10 594.33,29.09 594.50,29.81C594.67,30.53 594.83,32.35 595.00,34.13C595.17,35.91 595.33,38.70 595.50,40.48C595.67,42.27 595.83,44.81 596.00,44.85C596.17,44.88 596.33,42.45 596.50,40.69C596.67,38.93 596.83,36.20 597.00,34.28C597.17,32.37 597.33,30.40 597.50,29.20C597.67,27.99 597.83,27.30 598.00,27.03C598.17,26.77 598.33,27.06 598.50,27.60C598.67,28.13 598.83,29.20 599.00,30.25C599.17,31.30 599.33,32.80 599.50,33.88C599.67,34.96 599.83,36.55 600.00,36.74C600.17,36.93 600.33,35.77 600.50,35.02C600.67,34.27 600.83,33.11 601.00,32.23C601.17,31.36 601.33,30.45 601.50,29.79C601.67,29.12 601.83,28.65 602.00,28.24C602.17,27.83 602.33,27.60 602.50,27.35C602.67,27.10 602.83,26.93 603.00,26.76C603.17,26.59 603.33,26.45 603.50,26.32C603.67,26.19 603.83,26.07 604.00,25.98C604.17,25.88 604.33,25.80 604.50,25.74C604.67,25.68 604.83,25.64 605.00,25.62C605.17,25.60 605.33,25.59 605.50,25.61C605.67,25.62 605.83,25.65 606.00,25.70C606.17,25.76 606.33,25.83 606.50,25.91C606.67,26.00 606.83,26.10 607.00,26.22C607.17,26.34 607.33,26.48 607.50,26.63C607.67,26.79 607.83,26.95 608.00,27.15C608.17,27.35 608.33,27.55 608.50,27.82C608.67,28.09 608.83,28.38 609.00,28.75C609.17,29.11 609.33,29.57 609.50,30.01C609.67,30.46 609.83,31.00 610.00,31.41C610.17,31.82 610.33,32.51 610.50,32.46C610.67,32.41 610.83,31.60 611.00,31.09C611.17,30.58 611.33,29.93 611.50,29.40C611.67,28.87 611.83,28.33 612.00,27.90C612.17,27.47 612.33,27.12 612.50,26.82C612.67,26.51 612.83,26.29 613.00,26.09C613.17,25.89 613.33,25.75 613.50,25.63C613.67,25.51 613.83,25.44 614.00,25.40C614.17,25.36 614.33,25.35 614.50,25.38C614.67,25.42 614.83,25.48 615.00,25.59C615.17,25.70 615.33,25.84 615.50,26.02C615.67,26.21 615.83,26.43 616.00,26.72C616.17,27.02 616.33,27.36 616.50,27.78C616.67,28.20 616.83,28.73 617.00,29.25C617.17,29.78 617.33,30.42 617.50,30.92C617.67,31.42 617.83,32.25 618.00,32.26C618.17,32.28 618.33,31.48 618.50,31.01C618.67,30.54 618.83,29.93 619.00,29.43C619.17,28.93 619.33,28.42 619.50,28.01C619.67,27.60 619.83,27.26 620.00,26.97C620.17,26.67 620.33,26.44 620.50,26.23C620.67,26.02 620.83,25.86 621.00,25.71C621.17,25.57 621.33,25.45 621.50,25.36C621.67,25.27 621.83,25.21 622.00,25.18C622.17,25.15 622.33,25.14 622.50,25.17C622.67,25.19 622.83,25.24 623.00,25.33C623.17,25.41 623.33,25.51 623.50,25.68C623.67,25.86 623.83,25.99 624.00,26.38C624.17,26.76 624.33,27.09 624.50,27.97C624.67,28.84 624.83,29.93 625.00,31.64C625.17,33.35 625.33,35.86 625.50,38.25C625.67,40.63 625.83,43.98 626.00,45.95C626.17,47.91 626.33,50.31 626.50,50.04C626.67,49.78 626.83,46.74 627.00,44.36C627.17,41.99 627.33,38.25 627.50,35.79C627.67,33.34 627.82,28.54 628.00,29.61C628.18,30.68 628.00,38.22 628.60,42.20C629.45,46.18 631.62,50.13 633.10,53.50C634.58,56.87 636.02,58.30 637.50,62.40C638.98,66.50 640.87,76.60 642.00,78.10C643.13,79.60 643.18,73.63 644.30,71.40C645.42,69.17 647.22,66.95 648.70,64.70C650.18,62.45 651.70,59.77 653.20,57.90C654.70,56.03 656.20,54.62 657.70,53.50C659.20,52.38 660.70,50.83 662.20,51.20C663.70,51.57 665.20,55.52 666.70,55.70C668.20,55.88 669.70,52.30 671.20,52.30C672.70,52.30 674.95,55.13 675.70,55.70" stroke="#8d8a99" />
<path d="M70.00,167.40C71.92,166.65 77.35,164.40 81.50,162.90C85.65,161.40 89.68,159.53 94.90,158.40C100.12,157.27 107.95,156.10 112.80,156.10C117.65,156.10 121.38,156.72 124.00,158.40C126.62,160.08 127.18,162.65 128.50,166.20C129.82,169.75 130.77,175.15 131.90,179.70C133.03,184.25 134.00,190.28 135.30,193.50C136.60,196.72 138.22,198.45 139.70,199.00C141.18,199.55 142.88,198.30 144.20,196.80C145.52,195.30 146.63,190.30 147.60,190.00C148.57,189.70 149.25,194.80 150.00,195.00C150.75,195.20 151.38,193.70 152.10,191.20C152.82,188.70 153.37,183.42 154.30,180.00C155.23,176.58 156.38,174.68 157.70,170.70C159.02,166.72 160.70,159.08 162.20,156.10C163.70,153.12 164.47,153.92 166.70,152.80C168.93,151.68 171.88,150.72 175.60,149.40C179.32,148.08 184.52,146.40 189.00,144.90C193.48,143.40 197.67,141.52 202.50,140.40C207.33,139.28 213.02,138.75 218.00,138.20C222.98,137.65 227.00,137.73 232.40,137.10C237.80,136.47 244.80,134.40 250.40,134.40C256.00,134.40 261.90,136.28 266.00,137.10C270.10,137.92 271.25,139.68 275.00,139.30C278.75,138.92 284.38,135.35 288.50,134.80C292.62,134.25 297.02,135.55 299.70,136.00C302.38,136.45 302.73,136.58 304.60,137.50C306.47,138.42 309.22,140.33 310.90,141.50C312.58,142.67 313.07,142.65 314.70,144.50C316.33,146.35 319.02,149.92 320.70,152.60C322.38,155.28 323.45,157.70 324.80,160.60C326.15,163.50 327.77,166.27 328.80,170.00C329.83,173.73 330.25,178.67 331.00,183.00C331.75,187.33 332.17,192.77 333.30,196.00C334.43,199.23 336.30,201.52 337.80,202.40C339.30,203.28 341.18,203.17 342.30,201.30C343.42,199.43 343.57,194.75 344.50,191.20C345.43,187.65 347.15,184.53 347.90,180.00C348.65,175.47 348.07,171.53 349.00,164.00C349.93,156.47 352.00,140.40 353.50,134.80C355.00,129.20 355.50,131.87 358.00,130.40C360.50,128.93 364.52,125.62 368.50,126.00C372.48,126.38 378.17,129.53 381.90,132.70C385.63,135.87 388.65,139.58 390.90,145.00C393.15,150.42 394.10,158.23 395.40,165.20C396.70,172.17 397.60,183.67 398.70,186.80C399.80,189.93 400.88,185.30 402.00,184.00C403.12,182.70 404.27,182.17 405.40,179.00C406.53,175.83 407.85,170.28 408.80,165.00C409.75,159.72 409.98,147.63 411.10,147.30C412.22,146.97 414.20,157.55 415.50,163.00C416.80,168.45 418.15,176.03 418.90,180.00C419.65,183.97 419.07,186.03 420.00,186.80C420.93,187.57 423.00,185.90 424.50,184.60C426.00,183.30 427.68,180.68 429.00,179.00C430.32,177.32 431.47,178.85 432.40,174.50C433.33,170.15 433.48,154.08 434.60,152.90C435.72,151.72 437.98,164.55 439.10,167.40C440.22,170.25 440.37,167.70 441.30,170.00C442.23,172.30 443.38,176.72 444.70,181.20C446.02,185.68 447.90,193.72 449.20,196.90C450.50,200.08 451.02,201.80 452.50,200.30C453.98,198.80 456.78,189.58 458.10,187.90C459.42,186.22 459.27,190.93 460.40,190.20C461.53,189.47 463.60,188.03 464.90,183.50C466.20,178.97 467.08,163.75 468.20,163.00C469.32,162.25 470.10,172.98 471.60,179.00C473.10,185.02 475.15,199.85 477.20,199.10C479.25,198.35 481.85,175.98 483.90,174.50C485.95,173.02 487.82,188.70 489.50,190.20C491.18,191.70 492.68,186.73 494.00,183.50C495.32,180.27 496.40,169.95 497.40,170.80C498.40,171.65 499.07,184.45 500.00,188.60C500.93,192.75 501.98,195.70 503.00,195.70C504.02,195.70 505.08,190.12 506.10,188.60C507.12,187.08 508.10,189.28 509.10,186.60C510.10,183.92 511.10,177.55 512.10,172.50C513.10,167.45 514.25,158.32 515.10,156.30C515.95,154.28 516.35,163.42 517.20,160.40C518.05,157.38 519.20,141.73 520.20,138.20C521.20,134.67 522.20,137.18 523.20,139.20C524.20,141.22 525.18,146.43 526.20,150.30C527.22,154.17 528.45,161.90 529.30,162.40C530.15,162.90 530.30,156.73 531.30,153.30C532.30,149.87 533.90,144.52 535.30,141.80C536.70,139.08 538.45,140.40 539.70,137.00C540.95,133.60 541.75,124.52 542.80,121.40C543.85,118.28 544.95,118.95 546.00,118.30C547.05,117.65 548.18,118.30 549.10,117.50C550.02,116.70 550.85,112.85 551.50,113.50C552.15,114.15 552.48,116.68 553.00,121.40C553.52,126.12 553.80,141.80 554.60,141.80C555.40,141.80 556.88,123.23 557.80,121.40C558.72,119.57 559.32,126.37 560.10,130.80C560.88,135.23 561.72,148.27 562.50,148.00C563.28,147.73 563.88,135.47 564.80,129.20C565.72,122.93 567.08,111.70 568.00,110.40C568.92,109.10 569.52,121.40 570.30,121.40C571.08,121.40 571.78,113.28 572.70,110.40C573.62,107.52 574.88,104.10 575.80,104.10C576.72,104.10 577.28,111.18 578.20,110.40C579.12,109.62 580.38,97.57 581.30,99.40C582.22,101.23 583.05,115.90 583.70,121.40C584.35,126.90 584.68,136.07 585.20,132.40C585.72,128.73 586.13,101.23 586.80,99.40C587.47,97.57 588.67,121.23 589.20,121.40C589.73,121.57 589.78,108.74 590.00,100.44C590.22,92.13 590.33,77.36 590.50,71.55C590.67,65.74 590.83,65.73 591.00,65.59C591.17,65.45 591.33,65.79 591.50,70.71C591.67,75.63 591.83,86.85 592.00,95.10C592.17,103.36 592.33,120.12 592.50,120.25C592.67,120.39 592.83,103.94 593.00,95.90C593.17,87.86 593.33,76.81 593.50,72.01C593.67,67.21 593.83,67.47 594.00,67.11C594.17,66.76 594.33,68.14 594.50,69.90C594.67,71.66 594.83,74.65 595.00,77.67C595.17,80.69 595.33,85.04 595.50,88.02C595.67,91.01 595.83,95.50 596.00,95.60C596.17,95.70 596.33,91.47 596.50,88.64C596.67,85.81 596.83,81.60 597.00,78.62C597.17,75.64 597.33,72.64 597.50,70.76C597.67,68.87 597.83,67.80 598.00,67.29C598.17,66.78 598.33,67.11 598.50,67.71C598.67,68.31 598.83,69.57 599.00,70.86C599.17,72.16 599.33,73.97 599.50,75.49C599.67,77.01 599.83,79.59 600.00,80.00C600.17,80.41 600.33,78.73 600.50,77.92C600.67,77.11 600.83,76.03 601.00,75.15C601.17,74.27 601.33,73.37 601.50,72.65C601.67,71.93 601.83,71.34 602.00,70.82C602.17,70.29 602.33,69.89 602.50,69.50C602.67,69.11 602.83,68.79 603.00,68.49C603.17,68.19 603.33,67.92 603.50,67.69C603.67,67.46 603.83,67.26 604.00,67.09C604.17,66.93 604.33,66.79 604.50,66.70C604.67,66.61 604.83,66.55 605.00,66.53C605.17,66.51 605.33,66.52 605.50,66.58C605.67,66.63 605.83,66.72 606.00,66.85C606.17,66.98 606.33,67.14 606.50,67.34C606.67,67.54 606.83,67.77 607.00,68.04C607.17,68.31 607.33,68.60 607.50,68.94C607.67,69.27 607.83,69.63 608.00,70.05C608.17,70.47 608.33,70.91 608.50,71.47C608.67,72.02 608.83,72.64 609.00,73.40C609.17,74.16 609.33,75.09 609.50,76.00C609.67,76.91 609.83,78.03 610.00,78.87C610.17,79.71 610.33,81.13 610.50,81.05C610.67,80.97 610.83,79.38 611.00,78.38C611.17,77.39 611.33,76.12 611.50,75.08C611.67,74.04 611.83,73.00 612.00,72.16C612.17,71.33 612.33,70.65 612.50,70.07C612.67,69.49 612.83,69.06 613.00,68.69C613.17,68.32 613.33,68.05 613.50,67.85C613.67,67.64 613.83,67.51 614.00,67.46C614.17,67.40 614.33,67.42 614.50,67.51C614.67,67.60 614.83,67.76 615.00,68.00C615.17,68.24 615.33,68.54 615.50,68.94C615.67,69.35 615.83,69.81 616.00,70.42C616.17,71.03 616.33,71.74 616.50,72.61C616.67,73.48 616.83,74.56 617.00,75.63C617.17,76.70 617.33,78.01 617.50,79.03C617.67,80.06 617.83,81.74 618.00,81.80C618.17,81.86 618.33,80.29 618.50,79.37C618.67,78.46 618.83,77.26 619.00,76.28C619.17,75.31 619.33,74.32 619.50,73.52C619.67,72.73 619.83,72.08 620.00,71.51C620.17,70.94 620.33,70.51 620.50,70.12C620.67,69.73 620.83,69.42 621.00,69.16C621.17,68.89 621.33,68.68 621.50,68.53C621.67,68.38 621.83,68.28 622.00,68.24C622.17,68.20 622.33,68.22 622.50,68.29C622.67,68.37 622.83,68.50 623.00,68.68C623.17,68.87 623.33,69.11 623.50,69.41C623.67,69.70 623.83,70.05 624.00,70.47C624.17,70.90 624.33,71.36 624.50,71.96C624.67,72.56 624.83,73.25 625.00,74.07C625.17,74.90 625.33,75.93 625.50,76.93C625.67,77.94 625.83,79.17 626.00,80.12C626.17,81.08 626.33,83.16 626.50,82.65C626.67,82.14 626.83,78.82 627.00,77.06C627.17,75.30 627.33,73.30 627.50,72.09C627.67,70.88 627.83,69.59 628.00,69.78C628.17,69.98 628.33,69.79 628.50,73.25C628.67,76.71 628.83,84.60 629.00,90.55C629.17,96.50 629.33,108.69 629.50,108.96C629.67,109.23 629.83,97.77 630.00,92.18C630.17,86.60 630.33,79.03 630.50,75.44C630.67,71.85 630.83,71.60 631.00,70.63C631.17,69.67 631.33,69.58 631.50,69.63C631.67,69.68 631.83,69.87 632.00,70.91C632.17,71.94 632.33,73.42 632.50,75.83C632.67,78.24 632.83,81.84 633.00,85.36C633.17,88.88 633.33,93.77 633.50,96.95C633.67,100.12 633.83,104.53 634.00,104.40C634.17,104.27 634.33,99.50 634.50,96.17C634.67,92.84 634.83,87.74 635.00,84.43C635.17,81.11 635.33,77.76 635.50,76.28C635.67,74.81 635.83,74.62 636.00,75.60C636.17,76.57 636.33,79.37 636.50,82.14C636.67,84.92 636.83,89.29 637.00,92.22C637.17,95.16 637.33,99.42 637.50,99.76C637.67,100.09 637.83,96.65 638.00,94.22C638.17,91.79 638.33,87.98 638.50,85.19C638.67,82.40 638.83,79.50 639.00,77.46C639.17,75.42 639.33,74.06 639.50,72.96C639.67,71.87 639.92,67.74 640.00,70.91C640.00,74.08 640.00,89.15 640.00,92.00C640.50,94.85 641.92,87.50 643.00,88.00C644.08,88.50 645.33,94.67 646.50,95.00C647.67,95.33 648.75,88.67 650.00,90.00C651.25,91.33 652.83,102.67 654.00,103.00C655.17,103.33 655.70,95.17 657.00,92.00C658.30,88.83 660.30,84.67 661.80,84.00C663.30,83.33 664.97,87.67 666.00,88.00C667.03,88.33 667.12,86.07 668.00,86.00C668.88,85.93 670.30,86.60 671.30,87.60C672.30,88.60 673.05,91.68 674.00,92.00C674.95,92.32 676.50,89.92 677.00,89.50" stroke="#86824a" />
<path d="M70.00,199.00C70.17,198.60 70.33,198.10 71.00,196.60C71.67,195.10 73.05,191.70 74.00,190.00C74.95,188.30 75.75,186.75 76.70,186.40C77.65,186.05 78.73,188.47 79.70,187.90C80.67,187.33 81.53,184.70 82.50,183.00C83.47,181.30 84.03,179.32 85.50,177.70C86.97,176.08 88.88,174.52 91.30,173.30C93.72,172.08 97.08,170.15 100.00,170.40C102.92,170.65 105.87,173.33 108.80,174.80C111.73,176.27 115.43,178.00 117.60,179.20C119.77,180.40 120.58,180.55 121.80,182.00C123.02,183.45 123.97,186.07 124.90,187.90C125.83,189.73 126.42,189.48 127.40,193.00C128.38,196.52 129.87,204.43 130.80,209.00C131.73,213.57 132.25,216.63 133.00,220.40C133.75,224.17 134.18,229.37 135.30,231.60C136.42,233.83 137.83,234.57 139.70,233.80C141.57,233.03 144.95,227.37 146.50,227.00C148.05,226.63 148.18,231.60 149.00,231.60C149.82,231.60 150.70,230.77 151.40,227.00C152.10,223.23 152.53,216.83 153.20,209.00C153.87,201.17 154.28,187.88 155.40,180.00C156.52,172.12 158.40,165.48 159.90,161.70C161.40,157.92 161.78,158.03 164.40,157.30C167.02,156.57 172.98,156.93 175.60,157.30C178.22,157.67 177.48,159.88 180.10,159.50C182.72,159.12 187.57,155.93 191.30,155.00C195.03,154.07 199.38,154.08 202.50,153.90C205.62,153.72 206.88,154.72 210.00,153.90C213.12,153.08 217.87,149.72 221.20,149.00C224.53,148.28 226.87,149.17 230.00,149.60C233.13,150.03 236.63,150.77 240.00,151.60C243.37,152.43 246.83,153.60 250.20,154.60C253.57,155.60 256.85,156.60 260.20,157.60C263.55,158.60 266.93,159.42 270.30,160.60C273.67,161.78 277.03,163.52 280.40,164.70C283.77,165.88 287.82,166.73 290.50,167.70C293.18,168.67 294.22,168.50 296.50,170.50C298.78,172.50 301.80,176.67 304.20,179.70C306.60,182.73 308.28,184.92 310.90,188.70C313.52,192.48 317.67,197.50 319.90,202.40C322.13,207.30 322.82,213.23 324.30,218.10C325.78,222.97 327.30,228.98 328.80,231.60C330.30,234.22 331.05,233.43 333.30,233.80C335.55,234.17 340.43,234.93 342.30,233.80C344.17,232.67 343.57,232.23 344.50,227.00C345.43,221.77 346.77,209.48 347.90,202.40C349.03,195.32 350.00,193.52 351.30,184.50C352.60,175.48 353.97,154.88 355.70,148.30C357.43,141.72 359.57,146.67 361.70,145.00C363.83,143.33 366.25,137.92 368.50,138.30C370.75,138.68 372.97,143.93 375.20,147.30C377.43,150.67 379.67,154.40 381.90,158.50C384.13,162.60 386.92,168.32 388.60,171.90C390.28,175.48 390.87,174.72 392.00,180.00C393.13,185.28 394.10,195.37 395.40,203.60C396.70,211.83 398.32,226.03 399.80,229.40C401.28,232.77 402.98,227.35 404.30,223.80C405.62,220.25 406.57,213.15 407.70,208.10C408.83,203.05 409.98,193.50 411.10,193.50C412.22,193.50 413.10,202.48 414.40,208.10C415.70,213.72 416.85,224.02 418.90,227.20C420.95,230.38 424.65,228.88 426.70,227.20C428.75,225.52 429.88,221.03 431.20,217.10C432.52,213.17 433.47,204.35 434.60,203.60C435.73,202.85 436.70,209.42 438.00,212.60C439.30,215.78 440.53,219.33 442.40,222.70C444.27,226.07 446.20,231.30 449.20,232.80C452.20,234.30 457.78,232.08 460.40,231.70C463.02,231.32 463.42,233.68 464.90,230.50C466.38,227.32 467.82,213.33 469.30,212.60C470.78,211.87 472.48,222.92 473.80,226.10C475.12,229.28 475.52,233.77 477.20,231.70C478.88,229.63 482.22,215.38 483.90,213.70C485.58,212.02 485.98,221.42 487.30,221.60C488.62,221.78 490.12,219.10 491.80,214.80C493.48,210.50 495.92,193.92 497.40,195.80C498.88,197.68 499.43,220.68 500.70,226.10C501.97,231.52 503.45,229.32 505.00,228.30C506.55,227.28 508.48,223.25 510.00,220.00C511.52,216.75 512.40,214.70 514.10,208.80C515.80,202.90 518.85,187.63 520.20,184.60C521.55,181.57 521.37,189.27 522.20,190.60C523.03,191.93 523.85,195.62 525.20,192.60C526.55,189.58 528.78,175.52 530.30,172.50C531.82,169.48 532.97,176.02 534.30,174.50C535.63,172.98 537.12,164.42 538.30,163.40C539.48,162.38 540.55,172.27 541.40,168.40C542.25,164.53 542.57,143.22 543.40,140.20C544.23,137.18 545.57,146.60 546.40,150.30C547.23,154.00 547.55,162.40 548.40,162.40C549.25,162.40 550.48,153.33 551.50,150.30C552.52,147.27 553.50,140.17 554.50,144.20C555.50,148.23 556.50,173.83 557.50,174.50C558.50,175.17 559.32,154.60 560.50,148.20C561.68,141.80 563.42,140.13 564.60,136.10C565.78,132.07 566.60,123.32 567.60,124.00C568.60,124.68 569.42,140.20 570.60,140.20C571.78,140.20 573.35,123.00 574.70,124.00C576.05,125.00 577.53,138.12 578.70,146.20C579.87,154.28 580.70,175.18 581.70,172.50C582.70,169.82 584.07,134.07 584.70,130.10C585.33,126.13 585.28,140.03 585.50,148.68C585.72,157.34 585.83,182.12 586.00,182.04C586.17,181.97 586.33,159.56 586.50,148.22C586.67,136.88 586.83,120.93 587.00,114.00C587.17,107.08 587.33,107.89 587.50,106.67C587.67,105.44 587.83,105.58 588.00,106.66C588.17,107.75 588.33,107.15 588.50,113.19C588.67,119.23 588.83,133.04 589.00,142.90C589.17,152.76 589.33,172.40 589.50,172.34C589.67,172.29 589.83,152.50 590.00,142.59C590.17,132.68 590.33,118.80 590.50,112.86C590.67,106.93 590.83,107.26 591.00,106.96C591.17,106.66 591.33,106.95 591.50,111.08C591.67,115.20 591.83,124.77 592.00,131.69C592.17,138.62 592.33,152.52 592.50,152.60C592.67,152.69 592.83,138.98 593.00,132.20C593.17,125.42 593.33,115.97 593.50,111.90C593.67,107.84 593.83,108.23 594.00,107.82C594.17,107.41 594.33,108.39 594.50,109.44C594.67,110.49 594.83,112.30 595.00,114.12C595.17,115.94 595.33,118.55 595.50,120.34C595.67,122.14 595.83,124.84 596.00,124.90C596.17,124.97 596.33,122.43 596.50,120.74C596.67,119.05 596.83,116.53 597.00,114.76C597.17,113.00 597.33,111.19 597.50,110.16C597.67,109.13 597.83,108.55 598.00,108.57C598.17,108.58 598.33,109.19 598.50,110.25C598.67,111.31 598.83,113.14 599.00,114.93C599.17,116.73 599.33,119.28 599.50,121.00C599.67,122.72 599.83,125.00 600.00,125.25C600.17,125.50 600.33,123.77 600.50,122.48C600.67,121.20 600.83,119.09 601.00,117.56C601.17,116.02 601.33,114.42 601.50,113.29C601.67,112.16 601.83,111.41 602.00,110.79C602.17,110.16 602.33,109.86 602.50,109.54C602.67,109.21 602.83,109.03 603.00,108.84C603.17,108.64 603.33,108.49 603.50,108.35C603.67,108.22 603.83,108.10 604.00,108.01C604.17,107.91 604.33,107.84 604.50,107.78C604.67,107.73 604.83,107.70 605.00,107.69C605.17,107.69 605.33,107.70 605.50,107.74C605.67,107.77 605.83,107.83 606.00,107.91C606.17,107.99 606.33,108.10 606.50,108.22C606.67,108.35 606.83,108.49 607.00,108.66C607.17,108.82 607.33,109.00 607.50,109.22C607.67,109.45 607.83,109.66 608.00,110.01C608.17,110.36 608.33,110.69 608.50,111.34C608.67,112.00 608.83,112.78 609.00,113.93C609.17,115.09 609.33,116.73 609.50,118.29C609.67,119.85 609.83,121.99 610.00,123.30C610.17,124.61 610.33,126.20 610.50,126.15C610.67,126.11 610.83,124.43 611.00,123.03C611.17,121.64 611.33,119.42 611.50,117.79C611.67,116.16 611.83,114.46 612.00,113.27C612.17,112.07 612.33,111.27 612.50,110.61C612.67,109.95 612.83,109.64 613.00,109.33C613.17,109.01 613.33,108.87 613.50,108.73C613.67,108.59 613.83,108.52 614.00,108.49C614.17,108.45 614.33,108.47 614.50,108.53C614.67,108.59 614.83,108.69 615.00,108.85C615.17,109.02 615.33,109.20 615.50,109.54C615.67,109.88 615.83,110.23 616.00,110.91C616.17,111.60 616.33,112.43 616.50,113.66C616.67,114.88 616.83,116.61 617.00,118.26C617.17,119.92 617.33,122.17 617.50,123.59C617.67,125.02 617.83,126.76 618.00,126.80C618.17,126.83 618.33,125.17 618.50,123.82C618.67,122.48 618.83,120.30 619.00,118.71C619.17,117.12 619.33,115.45 619.50,114.28C619.67,113.11 619.83,112.32 620.00,111.67C620.17,111.02 620.33,110.71 620.50,110.38C620.67,110.05 620.83,109.88 621.00,109.71C621.17,109.53 621.33,109.42 621.50,109.33C621.67,109.24 621.83,109.19 622.00,109.17C622.17,109.15 622.33,109.16 622.50,109.21C622.67,109.26 622.83,109.34 623.00,109.46C623.17,109.58 623.33,109.72 623.50,109.92C623.67,110.12 623.83,110.32 624.00,110.68C624.17,111.04 624.33,111.38 624.50,112.06C624.67,112.74 624.83,113.55 625.00,114.75C625.17,115.96 625.33,117.65 625.50,119.27C625.67,120.88 625.83,123.09 626.00,124.47C626.17,125.85 626.33,127.83 626.50,127.53C626.67,127.22 626.83,124.51 627.00,122.66C627.17,120.80 627.33,118.13 627.50,116.41C627.67,114.70 627.83,112.60 628.00,112.37C628.17,112.13 628.33,111.22 628.50,115.00C628.67,118.78 628.83,128.23 629.00,135.03C629.17,141.83 629.33,155.66 629.50,155.81C629.67,155.95 629.83,142.59 630.00,135.91C630.17,129.24 630.33,119.93 630.50,115.77C630.67,111.60 630.83,111.86 631.00,110.94C631.17,110.01 631.33,110.22 631.50,110.21C631.67,110.19 631.67,106.08 632.00,110.84C632.33,115.59 633.00,132.24 633.50,138.74C634.00,145.25 634.39,149.38 635.00,149.85C635.62,150.33 636.45,141.77 637.20,141.59C637.96,141.40 638.75,150.19 639.52,148.75C640.29,147.32 640.97,135.66 641.82,132.98C642.66,130.30 643.90,132.55 644.60,132.69C645.31,132.83 645.48,131.81 646.03,133.81C646.58,135.82 647.34,144.77 647.88,144.74C648.43,144.70 648.75,132.90 649.31,133.60C649.87,134.31 650.71,146.24 651.25,148.95C651.79,151.66 652.07,149.79 652.55,149.86C653.03,149.92 653.62,149.28 654.14,149.34C654.67,149.40 654.97,149.88 655.69,150.24C656.42,150.59 657.64,151.35 658.47,151.47C659.31,151.59 659.93,154.43 660.71,150.95C661.49,147.46 662.42,132.66 663.17,130.55C663.91,128.45 664.53,136.57 665.16,138.32C665.80,140.06 666.34,141.01 666.98,141.03C667.61,141.04 668.40,138.68 668.96,138.41C669.53,138.15 669.86,137.70 670.38,139.43C670.90,141.15 671.59,149.84 672.08,148.75C672.57,147.67 672.76,135.74 673.32,132.92C673.87,130.11 675.05,132.05 675.40,131.88" stroke="#1a744a" />
<path d="M70.00,235.00C71.12,233.95 74.60,230.97 76.70,228.70C78.80,226.43 81.13,223.10 82.60,221.40C84.07,219.70 84.05,219.95 85.50,218.50C86.95,217.05 89.35,214.40 91.30,212.70C93.25,211.00 94.77,209.27 97.20,208.30C99.63,207.33 103.00,207.13 105.90,206.90C108.80,206.67 112.17,206.18 114.60,206.90C117.03,207.62 118.55,208.53 120.50,211.20C122.45,213.87 124.88,219.43 126.30,222.90C127.72,226.37 128.13,228.98 129.00,232.00C129.87,235.02 130.87,239.13 131.50,241.00C132.13,242.87 131.50,242.83 132.80,243.20C137.12,243.57 152.70,244.40 157.40,243.20C161.00,242.00 160.02,238.70 161.00,236.00C161.98,233.30 162.35,229.60 163.30,227.00C164.25,224.40 165.40,223.00 166.70,220.40C168.00,217.80 169.98,214.02 171.10,211.40C172.22,208.78 172.65,207.68 173.40,204.70C174.15,201.72 174.85,196.87 175.60,193.50C176.35,190.13 177.15,186.80 177.90,184.50C178.65,182.20 178.98,180.12 180.10,179.70C181.22,179.28 183.12,183.12 184.60,182.00C186.08,180.88 187.13,175.63 189.00,173.00C190.87,170.37 193.55,168.08 195.80,166.20C198.05,164.32 199.88,163.57 202.50,161.70C205.12,159.83 209.13,157.05 211.50,155.00C213.87,152.95 214.70,149.40 216.70,149.40C218.70,149.40 221.25,154.82 223.50,155.00C225.75,155.18 227.97,150.68 230.20,150.50C232.43,150.32 235.03,151.65 236.90,153.90C238.77,156.15 239.90,164.93 241.40,164.00C242.90,163.07 244.40,150.73 245.90,148.30C247.40,145.87 249.10,149.77 250.40,149.40C251.70,149.03 252.40,145.92 253.70,146.10C255.00,146.28 256.52,147.15 258.20,150.50C259.88,153.85 261.75,160.97 263.80,166.20C265.85,171.43 269.00,178.67 270.50,181.90C272.00,185.13 272.05,185.03 272.80,185.60C273.55,186.17 273.88,186.67 275.00,185.30C276.12,183.93 278.00,180.58 279.50,177.40C281.00,174.22 282.50,169.18 284.00,166.20C285.50,163.22 287.00,160.80 288.50,159.50C290.00,158.20 291.52,156.15 293.00,158.40C294.48,160.65 295.92,169.40 297.40,173.00C298.88,176.60 300.40,177.90 301.90,180.00C303.40,182.10 304.53,183.35 306.40,185.60C308.27,187.85 311.23,189.95 313.10,193.50C314.97,197.05 316.10,201.68 317.60,206.90C319.10,212.12 320.78,219.57 322.10,224.80C323.42,230.03 324.38,235.23 325.50,238.30C326.62,241.37 325.50,242.38 328.80,243.20C332.13,244.02 342.18,244.78 345.50,243.20C348.70,241.62 347.67,239.65 348.70,233.70C349.73,227.75 350.48,215.78 351.70,207.50C352.92,199.22 354.78,188.87 356.00,184.00C357.22,179.13 358.02,181.20 359.00,178.30C359.98,175.40 360.70,170.00 361.90,166.60C363.10,163.20 364.98,160.08 366.20,157.90C367.42,155.72 367.98,152.53 369.20,153.50C370.42,154.47 372.30,160.78 373.50,163.70C374.70,166.62 375.18,168.08 376.40,171.00C377.62,173.92 379.10,177.55 380.80,181.20C382.50,184.85 384.90,187.07 386.60,192.90C388.30,198.73 389.77,208.92 391.00,216.20C392.23,223.48 392.90,232.10 394.00,236.60C395.10,241.10 394.00,242.10 397.60,243.20C420.10,244.30 506.27,244.17 529.00,243.20C534.00,242.23 532.42,239.10 534.00,237.40C535.58,235.70 537.00,234.23 538.50,233.00C540.00,231.77 541.75,234.67 543.00,230.00C544.25,225.33 545.00,210.83 546.00,205.00C547.00,199.17 548.02,199.33 549.00,195.00C549.98,190.67 551.07,173.17 551.90,179.00C552.73,184.83 553.32,226.50 554.00,230.00C554.68,233.50 555.23,198.67 556.00,200.00C556.77,201.33 557.77,239.67 558.60,238.00C559.43,236.33 560.27,192.17 561.00,190.00C561.73,187.83 562.27,228.33 563.00,225.00C563.73,221.67 564.65,171.67 565.40,170.00C566.15,168.33 566.90,218.33 567.50,215.00C568.10,211.67 568.35,162.50 569.00,150.00C569.65,137.50 570.73,129.17 571.40,140.00C572.07,150.83 572.40,210.00 573.00,215.00C573.60,220.00 574.33,167.83 575.00,170.00C575.67,172.17 576.33,231.33 577.00,228.00C577.67,224.67 578.37,165.50 579.00,150.00C579.63,134.50 580.22,124.67 580.80,135.00C581.38,145.33 581.97,207.00 582.50,212.00C583.03,217.00 583.50,190.33 584.00,165.00C584.50,139.67 585.17,63.08 585.50,60.00C585.83,56.92 585.83,142.50 586.00,146.50C586.17,150.50 586.33,105.12 586.50,83.97C586.67,62.83 586.83,32.43 587.00,19.63C587.17,6.83 587.33,9.37 587.50,7.18C587.67,5.00 587.83,6.62 588.00,6.51C588.17,6.40 588.33,6.50 588.50,6.50C588.67,6.50 588.83,6.50 589.00,6.50C589.17,6.50 589.33,6.50 589.50,6.50C589.67,6.50 589.83,6.50 590.00,6.50C590.17,6.50 590.33,6.40 590.50,6.51C590.67,6.62 590.83,5.00 591.00,7.18C591.17,9.37 591.33,6.83 591.50,19.63C591.67,32.43 591.83,62.83 592.00,83.97C592.17,105.12 592.33,146.50 592.50,146.50C592.67,146.50 592.83,105.12 593.00,83.97C593.17,62.83 593.33,32.43 593.50,19.63C593.67,6.83 593.83,9.37 594.00,7.18C594.17,5.00 594.33,6.62 594.50,6.51C594.67,6.40 594.83,6.50 595.00,6.50C595.17,6.50 595.33,6.50 595.50,6.50C595.67,6.50 595.83,6.50 596.00,6.50C596.17,6.50 596.33,6.50 596.50,6.50C596.67,6.50 596.83,6.50 597.00,6.50C597.17,6.50 597.33,6.50 597.50,6.50C597.67,6.50 597.83,6.40 598.00,6.51C598.17,6.62 598.33,5.10 598.50,7.13C598.67,9.16 598.83,6.81 599.00,18.69C599.17,30.58 599.33,58.80 599.50,78.44C599.67,98.07 599.83,136.50 600.00,136.50C600.17,136.50 600.33,98.07 600.50,78.44C600.67,58.80 600.83,30.58 601.00,18.69C601.17,6.81 601.33,9.16 601.50,7.13C601.67,5.10 601.83,6.62 602.00,6.51C602.17,6.40 602.33,6.50 602.50,6.50C602.67,6.50 602.83,6.50 603.00,6.50C603.17,6.50 603.33,6.50 603.50,6.50C603.67,6.50 603.83,6.50 604.00,6.50C604.17,6.50 604.33,6.50 604.50,6.50C604.67,6.50 604.83,6.50 605.00,6.50C605.17,6.50 605.33,6.50 605.50,6.50C605.67,6.50 605.83,6.50 606.00,6.50C606.17,6.50 606.33,6.50 606.50,6.50C606.67,6.50 606.83,6.50 607.00,6.50C607.17,6.50 607.33,6.50 607.50,6.50C607.67,6.50 607.83,6.50 608.00,6.50C608.17,6.50 608.33,6.41 608.50,6.51C608.67,6.61 608.83,5.16 609.00,7.11C609.17,9.06 609.33,6.79 609.50,18.22C609.67,29.65 609.83,56.79 610.00,75.67C610.17,94.55 610.33,131.50 610.50,131.50C610.67,131.50 610.83,94.55 611.00,75.67C611.17,56.79 611.33,29.65 611.50,18.22C611.67,6.79 611.83,9.06 612.00,7.11C612.17,5.16 612.33,6.61 612.50,6.51C612.67,6.41 612.83,6.50 613.00,6.50C613.17,6.50 613.33,6.50 613.50,6.50C613.67,6.50 613.83,6.50 614.00,6.50C614.17,6.50 614.33,6.50 614.50,6.50C614.67,6.50 614.83,6.50 615.00,6.50C615.17,6.50 615.33,6.50 615.50,6.50C615.67,6.50 615.83,6.40 616.00,6.51C616.17,6.62 616.33,5.10 616.50,7.13C616.67,9.16 616.83,6.81 617.00,18.69C617.17,30.58 617.33,58.80 617.50,78.44C617.67,98.07 617.83,136.50 618.00,136.50C618.17,136.50 618.33,98.07 618.50,78.44C618.67,58.80 618.83,30.58 619.00,18.69C619.17,6.81 619.33,9.16 619.50,7.13C619.67,5.10 619.83,6.62 620.00,6.51C620.17,6.40 620.33,6.50 620.50,6.50C620.67,6.50 620.83,6.50 621.00,6.50C621.17,6.50 621.33,6.50 621.50,6.50C621.67,6.50 621.83,6.50 622.00,6.50C622.17,6.50 622.33,6.50 622.50,6.50C622.67,6.50 622.83,6.50 623.00,6.50C623.17,6.50 623.33,6.50 623.50,6.50C623.67,6.50 623.83,6.50 624.00,6.50C624.17,6.50 624.33,6.38 624.50,6.51C624.67,6.64 624.83,4.78 625.00,7.28C625.17,9.78 625.33,6.88 625.50,21.50C625.67,36.13 625.83,70.87 626.00,95.04C626.17,119.21 626.33,166.50 626.50,166.50C626.67,166.50 626.83,119.20 627.00,95.04C627.17,70.88 627.33,35.96 627.50,21.52C627.67,7.08 627.83,7.30 628.00,8.40C628.17,9.49 628.33,7.18 628.50,28.08C628.67,48.98 628.83,99.04 629.00,133.78C629.17,168.51 629.33,236.50 629.50,236.50C629.67,236.50 629.83,168.52 630.00,133.78C630.17,99.04 630.33,49.09 630.50,28.07C630.67,7.04 630.83,11.21 631.00,7.62C631.17,4.03 631.33,6.70 631.50,6.52C631.67,6.33 631.83,6.36 632.00,6.52C632.17,6.67 632.33,4.35 632.50,7.47C632.67,10.60 632.83,6.97 633.00,25.25C633.17,43.54 633.33,86.97 633.50,117.18C633.67,147.38 633.83,206.50 634.00,206.50C634.17,206.50 634.33,147.38 634.50,117.18C634.67,86.97 634.83,43.54 635.00,25.25C635.17,6.97 635.33,10.60 635.50,7.47C635.67,4.35 635.83,6.68 636.00,6.52C636.17,6.35 636.33,6.50 636.50,6.50C636.67,6.50 636.83,6.50 637.00,6.50C637.17,6.50 637.33,6.50 637.50,6.50C637.67,6.50 637.83,6.50 638.00,6.50C638.17,6.50 638.33,6.50 638.50,6.50C638.67,6.50 638.83,-2.42 639.00,6.50C639.17,15.42 639.00,37.75 639.50,60.00C640.00,82.25 640.92,130.00 642.00,140.00C643.08,150.00 645.00,120.00 646.00,120.00C647.00,120.00 647.33,139.17 648.00,140.00C648.67,140.83 649.20,115.50 650.00,125.00C650.80,134.50 651.97,194.50 652.80,197.00C653.63,199.50 654.13,151.17 655.00,140.00C655.87,128.83 657.17,128.33 658.00,130.00C658.83,131.67 659.37,156.33 660.00,150.00C660.63,143.67 661.13,93.67 661.80,92.00C662.47,90.33 663.13,128.67 664.00,140.00C664.87,151.33 666.00,161.67 667.00,160.00C668.00,158.33 669.00,131.67 670.00,130.00C671.00,128.33 671.83,149.17 673.00,150.00C674.17,150.83 676.33,137.50 677.00,135.00" stroke="#84cde0" />
<path d="M70.00,251.70C71.92,250.58 77.35,247.05 81.50,245.00C85.65,242.95 90.42,240.70 94.90,239.40C99.38,238.10 103.92,237.20 108.40,237.20C112.88,237.20 118.45,237.72 121.80,239.40C125.15,241.08 126.63,243.37 128.50,247.30C130.37,251.23 131.50,258.52 133.00,263.00C134.50,267.48 136.00,271.97 137.50,274.20C139.00,276.43 140.32,276.97 142.00,276.40C143.68,275.83 146.10,271.37 147.60,270.80C149.10,270.23 149.88,275.05 151.00,273.00C152.12,270.95 153.18,262.78 154.30,258.50C155.42,254.22 156.38,251.42 157.70,247.30C159.02,243.18 160.33,237.18 162.20,233.80C164.07,230.42 165.92,228.68 168.90,227.00C171.88,225.32 176.37,224.62 180.10,223.70C183.83,222.78 187.57,222.25 191.30,221.50C195.03,220.75 198.05,219.95 202.50,219.20C206.95,218.45 212.63,217.55 218.00,217.00C223.37,216.45 230.43,216.27 234.70,215.90C238.97,215.53 240.62,215.18 243.60,214.80C246.58,214.42 249.60,213.42 252.60,213.60C255.60,213.78 258.23,214.77 261.60,215.90C264.97,217.03 269.45,220.03 272.80,220.40C276.15,220.77 278.33,218.67 281.70,218.10C285.07,217.53 289.25,216.07 293.00,217.00C296.75,217.93 300.85,221.47 304.20,223.70C307.55,225.93 310.48,227.78 313.10,230.40C315.72,233.02 318.03,236.22 319.90,239.40C321.77,242.58 323.00,245.57 324.30,249.50C325.60,253.43 326.57,258.88 327.70,263.00C328.83,267.12 330.17,271.78 331.10,274.20C332.03,276.62 331.43,276.95 333.30,277.50C335.17,278.05 340.43,278.80 342.30,277.50C344.17,276.20 343.75,275.12 344.50,269.70C345.25,264.28 345.67,253.22 346.80,245.00C347.93,236.78 349.82,226.38 351.30,220.40C352.78,214.42 354.33,210.97 355.70,209.10C357.07,207.23 357.37,209.92 359.50,209.20C361.63,208.48 365.52,204.80 368.50,204.80C371.48,204.80 374.80,207.53 377.40,209.20C380.00,210.87 381.85,212.37 384.10,214.80C386.35,217.23 389.02,218.93 390.90,223.80C392.78,228.67 394.10,236.90 395.40,244.00C396.70,251.10 397.40,262.67 398.70,266.40C400.00,270.13 401.52,270.52 403.20,266.40C404.88,262.28 407.30,247.30 408.80,241.70C410.30,236.10 411.08,232.05 412.20,232.80C413.32,233.55 414.20,240.22 415.50,246.20C416.80,252.18 418.43,264.70 420.00,268.70C421.57,272.70 423.03,271.70 424.90,270.20C426.77,268.70 429.40,264.82 431.20,259.70C433.00,254.58 434.20,240.25 435.70,239.50C437.20,238.75 438.70,250.33 440.20,255.20C441.70,260.07 443.37,265.07 444.70,268.70C446.03,272.33 446.65,276.50 448.20,277.00C449.75,277.50 451.22,273.47 454.00,271.70C456.78,269.93 462.35,269.52 464.90,266.40C467.45,263.28 467.82,253.37 469.30,253.00C470.78,252.63 471.97,260.37 473.80,264.20C475.63,268.03 478.62,276.75 480.30,276.00C481.98,275.25 482.37,261.67 483.90,259.70C485.43,257.73 487.07,265.13 489.50,264.20C491.93,263.27 496.65,252.37 498.50,254.10C500.35,255.83 499.52,272.55 500.60,274.60C501.68,276.65 502.60,270.50 505.00,266.40C507.40,262.30 511.67,255.07 515.00,250.00C518.33,244.93 522.33,240.17 525.00,236.00C527.67,231.83 529.00,227.17 531.00,225.00C533.00,222.83 535.08,226.33 537.00,223.00C538.92,219.67 540.55,209.05 542.50,205.00C544.45,200.95 547.37,199.48 548.70,198.70C550.03,197.92 549.84,201.16 550.50,200.32C551.16,199.48 551.85,192.50 552.66,193.67C553.46,194.85 554.49,206.52 555.34,207.35C556.19,208.18 556.94,198.64 557.76,198.66C558.59,198.68 559.52,209.36 560.30,207.48C561.08,205.61 561.77,186.13 562.45,187.39C563.12,188.65 563.70,213.60 564.37,215.05C565.03,216.50 565.74,200.53 566.46,196.11C567.18,191.69 567.66,187.18 568.66,188.55C569.67,189.91 571.54,204.54 572.50,204.29C573.46,204.04 573.67,188.92 574.45,187.03C575.24,185.14 576.43,195.19 577.21,192.95C577.99,190.71 578.45,173.81 579.13,173.60C579.81,173.40 580.65,185.50 581.29,191.73C581.92,197.96 582.30,210.68 582.94,211.01C583.58,211.35 584.46,204.85 585.14,193.74C585.81,182.64 586.61,153.91 587.00,144.37C587.39,134.84 587.33,137.86 587.50,136.54C587.67,135.22 587.83,135.58 588.00,136.44C588.17,137.30 588.33,136.75 588.50,141.69C588.67,146.64 588.83,158.02 589.00,166.11C589.17,174.20 589.33,190.25 589.50,190.24C589.67,190.23 589.83,174.07 590.00,166.04C590.17,158.01 590.33,146.66 590.50,142.03C590.67,137.41 590.83,138.46 591.00,138.28C591.17,138.09 591.33,139.79 591.50,140.93C591.67,142.08 591.83,143.91 592.00,145.17C592.17,146.43 592.33,148.43 592.50,148.49C592.67,148.55 592.83,146.70 593.00,145.54C593.17,144.38 593.33,142.66 593.50,141.55C593.67,140.44 593.83,139.33 594.00,138.90C594.17,138.46 594.33,138.48 594.50,138.94C594.67,139.41 594.83,140.55 595.00,141.68C595.17,142.82 595.33,144.57 595.50,145.76C595.67,146.95 595.83,148.76 596.00,148.80C596.17,148.85 596.33,147.16 596.50,146.04C596.67,144.92 596.83,143.24 597.00,142.07C597.17,140.90 597.33,139.70 597.50,139.02C597.67,138.34 597.83,137.96 598.00,137.97C598.17,137.99 598.33,138.40 598.50,139.11C598.67,139.82 598.83,141.05 599.00,142.25C599.17,143.45 599.33,145.16 599.50,146.31C599.67,147.46 599.83,148.99 600.00,149.16C600.17,149.33 600.33,148.18 600.50,147.33C600.67,146.48 600.83,145.08 601.00,144.06C601.17,143.04 601.33,141.98 601.50,141.23C601.67,140.48 601.83,139.99 602.00,139.58C602.17,139.17 602.33,138.97 602.50,138.76C602.67,138.55 602.83,138.44 603.00,138.31C603.17,138.18 603.33,138.09 603.50,138.00C603.67,137.92 603.83,137.85 604.00,137.79C604.17,137.73 604.33,137.69 604.50,137.66C604.67,137.63 604.83,137.61 605.00,137.61C605.17,137.61 605.33,137.63 605.50,137.66C605.67,137.69 605.83,137.73 606.00,137.79C606.17,137.85 606.33,137.92 606.50,138.01C606.67,138.10 606.83,138.20 607.00,138.32C607.17,138.43 607.33,138.55 607.50,138.71C607.67,138.87 607.83,139.01 608.00,139.25C608.17,139.49 608.33,139.71 608.50,140.16C608.67,140.60 608.83,141.12 609.00,141.90C609.17,142.67 609.33,143.77 609.50,144.82C609.67,145.86 609.83,147.29 610.00,148.17C610.17,149.05 610.33,150.11 610.50,150.09C610.67,150.06 610.83,148.95 611.00,148.03C611.17,147.10 611.33,145.63 611.50,144.55C611.67,143.47 611.83,142.34 612.00,141.55C612.17,140.76 612.33,140.22 612.50,139.79C612.67,139.36 612.83,139.16 613.00,138.95C613.17,138.75 613.33,138.65 613.50,138.57C613.67,138.48 613.83,138.44 614.00,138.42C614.17,138.41 614.33,138.42 614.50,138.47C614.67,138.51 614.83,138.58 615.00,138.70C615.17,138.82 615.33,138.94 615.50,139.17C615.67,139.41 615.83,139.64 616.00,140.10C616.17,140.57 616.33,141.13 616.50,141.95C616.67,142.77 616.83,143.93 617.00,145.03C617.17,146.14 617.33,147.65 617.50,148.60C617.67,149.56 617.83,150.72 618.00,150.76C618.17,150.79 618.33,149.68 618.50,148.79C618.67,147.90 618.83,146.45 619.00,145.39C619.17,144.34 619.33,143.24 619.50,142.46C619.67,141.68 619.83,141.16 620.00,140.74C620.17,140.31 620.33,140.10 620.50,139.89C620.67,139.68 620.83,139.57 621.00,139.46C621.17,139.35 621.33,139.28 621.50,139.22C621.67,139.17 621.83,139.14 622.00,139.13C622.17,139.12 622.33,139.14 622.50,139.17C622.67,139.21 622.83,139.27 623.00,139.35C623.17,139.44 623.33,139.54 623.50,139.68C623.67,139.82 623.83,139.96 624.00,140.20C624.17,140.44 624.33,140.68 624.50,141.14C624.67,141.59 624.83,142.14 625.00,142.95C625.17,143.75 625.33,144.89 625.50,145.97C625.67,147.06 625.83,148.53 626.00,149.46C626.17,150.38 626.33,151.71 626.50,151.51C626.67,151.32 626.83,149.51 627.00,148.28C627.17,147.05 627.33,145.23 627.50,144.14C627.67,143.05 627.83,140.98 628.00,141.73C628.17,142.49 628.33,140.84 628.50,148.69C628.67,156.55 628.83,175.52 629.00,188.87C629.17,202.22 629.33,228.69 629.50,228.79C629.67,228.90 629.83,202.75 630.00,189.49C630.17,176.24 630.33,157.37 630.50,149.27C630.67,141.17 630.83,142.40 631.00,140.88C631.17,139.35 631.33,140.18 631.50,140.13C631.67,140.07 631.67,137.94 632.00,140.56C632.33,143.18 632.79,151.37 633.50,155.85C634.21,160.33 635.50,167.05 636.26,167.44C637.03,167.84 637.32,158.75 638.08,158.23C638.84,157.71 640.16,161.69 640.82,164.33C641.49,166.97 641.53,176.15 642.05,174.09C642.56,172.03 643.27,156.31 643.91,151.99C644.55,147.67 645.18,146.05 645.88,148.18C646.59,150.31 647.45,162.91 648.15,164.75C648.85,166.60 649.48,158.75 650.09,159.24C650.70,159.74 651.11,170.58 651.82,167.71C652.53,164.84 653.57,141.28 654.36,142.03C655.15,142.79 655.73,167.40 656.57,172.24C657.40,177.08 658.43,172.20 659.35,171.08C660.27,169.96 661.20,165.78 662.08,165.52C662.96,165.27 663.94,169.02 664.63,169.54C665.33,170.06 665.60,170.01 666.24,168.63C666.87,167.26 667.80,159.78 668.43,161.29C669.06,162.81 669.33,176.02 670.01,177.72C670.69,179.41 671.82,176.60 672.50,171.44C673.18,166.29 673.58,149.49 674.09,146.78C674.61,144.08 675.34,153.80 675.59,155.20" stroke="#76c05a" />
<path d="M70.00,271.90C71.92,271.35 77.35,269.72 81.50,268.60C85.65,267.48 89.68,266.07 94.90,265.20C100.12,264.33 107.95,263.22 112.80,263.40C117.65,263.58 121.00,264.50 124.00,266.30C127.00,268.10 128.72,270.88 130.80,274.20C132.88,277.52 134.58,282.73 136.50,286.20C138.42,289.67 140.37,292.33 142.30,295.00C144.23,297.67 146.40,301.48 148.10,302.20C149.80,302.92 150.80,301.00 152.50,299.30C154.20,297.60 156.60,294.92 158.30,292.00C160.00,289.08 161.25,284.70 162.70,281.80C164.15,278.90 165.55,276.53 167.00,274.60C168.45,272.67 169.97,272.70 171.40,270.20C172.83,267.70 174.15,262.12 175.60,259.60C177.05,257.08 177.48,256.42 180.10,255.10C182.72,253.78 186.82,252.63 191.30,251.70C195.78,250.77 202.55,250.05 207.00,249.50C211.45,248.95 215.25,248.77 218.00,248.40C220.75,248.03 221.10,247.12 223.50,247.30C225.90,247.48 229.05,249.50 232.40,249.50C235.75,249.50 239.87,247.87 243.60,247.30C247.33,246.73 251.43,245.37 254.80,246.10C258.17,246.83 261.18,250.02 263.80,251.70C266.42,253.38 268.25,256.20 270.50,256.20C272.75,256.20 275.05,253.75 277.30,251.70C279.55,249.65 281.02,245.95 284.00,243.90C286.98,241.85 291.47,240.27 295.20,239.40C298.93,238.53 303.97,238.43 306.40,238.70C308.83,238.97 307.93,240.62 309.80,241.00C311.67,241.38 314.80,241.27 317.60,241.00C320.40,240.73 323.60,239.78 326.60,239.40C329.60,239.02 332.62,238.58 335.60,238.70C338.58,238.82 341.52,239.35 344.50,240.10C347.48,240.85 350.92,242.38 353.50,243.20C356.08,244.02 358.25,245.25 360.00,245.00C361.75,244.75 361.47,242.25 364.00,241.70C366.53,241.15 371.85,240.95 375.20,241.70C378.55,242.45 381.48,243.95 384.10,246.20C386.72,248.45 389.22,251.45 390.90,255.20C392.58,258.95 393.38,265.47 394.20,268.70C395.02,271.93 394.82,270.72 395.80,274.60C396.78,278.48 398.40,291.77 400.10,292.00C401.80,292.23 404.35,281.67 406.00,276.00C407.65,270.33 409.03,260.67 410.00,258.00C410.97,255.33 410.77,258.93 411.80,260.00C412.83,261.07 414.25,261.48 416.20,264.40C418.15,267.32 421.57,273.87 423.50,277.50C425.43,281.13 426.35,283.28 427.80,286.20C429.25,289.12 430.88,297.37 432.20,295.00C433.52,292.63 434.73,276.87 435.70,272.00C436.67,267.13 436.65,264.88 438.00,265.80C439.35,266.72 442.10,273.13 443.80,277.50C445.50,281.87 446.73,292.48 448.20,292.00C449.67,291.52 451.13,276.30 452.60,274.60C454.07,272.90 455.07,283.98 457.00,281.80C458.93,279.62 462.02,262.47 464.20,261.50C466.38,260.53 467.92,270.92 470.10,276.00C472.28,281.08 474.88,288.12 477.30,292.00C479.72,295.88 482.17,297.35 484.60,299.30C487.03,301.25 489.72,303.45 491.90,303.70C494.08,303.95 495.77,302.10 497.70,300.80C499.63,299.50 501.12,299.92 503.50,295.90C505.88,291.88 509.52,283.45 512.00,276.70C514.48,269.95 516.27,261.08 518.40,255.40C520.53,249.72 522.95,236.83 524.80,242.60C526.65,248.37 528.22,283.43 529.50,290.00C530.78,296.57 531.25,282.83 532.50,282.00C533.75,281.17 535.43,286.95 537.00,285.00C538.57,283.05 540.40,277.80 541.90,270.30C543.40,262.80 544.60,246.83 546.00,240.00C547.40,233.17 548.87,227.92 550.30,229.30C551.73,230.68 553.32,241.52 554.60,248.30C555.88,255.08 556.92,263.88 558.00,270.00C559.08,276.12 559.93,285.00 561.10,285.00C562.27,285.00 563.65,280.50 565.00,270.00C566.35,259.50 567.53,233.40 569.20,222.00C570.87,210.60 572.58,207.42 575.00,201.60C577.42,195.78 580.78,191.95 583.70,187.10C586.62,182.25 589.58,175.92 592.50,172.50C595.42,169.08 598.77,167.18 601.20,166.60C603.63,166.02 605.15,169.38 607.10,169.00C609.05,168.62 610.48,165.18 612.90,164.30C615.32,163.42 619.17,162.33 621.60,163.70C624.03,165.07 626.03,170.55 627.50,172.50C628.97,174.45 628.95,174.67 630.40,175.40C631.85,176.13 634.75,174.95 636.20,176.90C637.65,178.85 638.13,181.03 639.10,187.10C640.07,193.17 641.27,209.90 642.00,213.30C642.73,216.70 642.77,210.90 643.50,207.50C644.23,204.10 645.43,195.82 646.40,192.90C647.37,189.98 648.33,192.43 649.30,190.00C650.27,187.57 650.98,181.47 652.20,178.30C653.42,175.13 654.90,173.43 656.60,171.00C658.30,168.57 660.45,166.13 662.40,163.70C664.35,161.27 665.87,159.32 668.30,156.40C670.73,153.48 675.55,147.90 677.00,146.20" stroke="#e3262d" />
<path d="M70.00,312.40C71.62,310.95 76.15,306.60 79.70,303.70C83.25,300.80 87.42,297.18 91.30,295.00C95.18,292.82 98.15,291.10 103.00,290.60C107.85,290.10 116.28,290.30 120.40,292.00C124.52,293.70 126.00,296.42 127.70,300.80C129.40,305.18 129.97,312.48 130.60,318.30C131.23,324.12 131.17,334.75 131.50,335.70C131.83,336.65 132.02,321.08 132.60,324.00C133.18,326.92 134.12,345.52 135.00,353.20C135.88,360.88 136.68,368.40 137.90,370.10C139.12,371.80 141.08,365.25 142.30,363.40C143.52,361.55 144.38,362.40 145.20,359.00C146.02,355.60 146.57,343.50 147.20,343.00C147.83,342.50 148.37,356.23 149.00,356.00C149.63,355.77 150.42,341.60 151.00,341.60C151.58,341.60 152.02,359.88 152.50,356.00C152.98,352.12 153.42,327.02 153.90,318.30C154.38,309.58 154.67,307.83 155.40,303.70C156.13,299.57 156.85,295.68 158.30,293.50C159.75,291.32 159.73,291.23 164.10,290.60C168.47,289.97 176.85,290.08 184.50,289.70C192.15,289.32 204.40,288.35 210.00,288.30C215.60,288.25 215.42,289.63 218.10,289.40C220.78,289.17 218.10,287.32 226.10,286.90C234.17,286.48 255.75,286.58 266.50,286.90C277.25,287.22 284.78,287.82 290.60,288.80C296.42,289.78 298.03,291.23 301.40,292.80C304.77,294.37 308.12,295.73 310.80,298.20C313.48,300.67 315.48,303.33 317.50,307.60C319.52,311.87 321.33,317.52 322.90,323.80C324.47,330.08 325.55,338.13 326.90,345.30C328.25,352.47 329.65,361.20 331.00,366.80C332.35,372.40 333.43,376.67 335.00,378.90C336.57,381.13 339.05,381.77 340.40,380.20C341.75,378.63 342.20,375.77 343.10,369.50C344.00,363.23 344.92,350.22 345.80,342.60C346.68,334.98 347.28,330.08 348.40,323.80C349.52,317.52 351.15,309.62 352.50,304.90C353.85,300.18 355.12,297.40 356.50,295.50C357.88,293.60 358.62,294.80 360.80,293.50C362.98,292.20 365.72,288.43 369.60,287.70C373.48,286.97 380.47,288.13 384.10,289.10C387.73,290.07 389.45,290.10 391.40,293.50C393.35,296.90 394.35,300.03 395.80,309.50C397.25,318.97 398.65,344.47 400.10,350.30C401.55,356.13 403.28,349.35 404.50,344.50C405.72,339.65 406.18,327.03 407.40,321.20C408.62,315.37 410.33,308.53 411.80,309.50C413.27,310.47 414.75,318.98 416.20,327.00C417.65,335.02 419.05,354.20 420.50,357.60C421.95,361.00 423.43,351.05 424.90,347.40C426.37,343.75 427.60,341.05 429.30,335.70C431.00,330.35 433.40,316.27 435.10,315.30C436.80,314.33 437.80,324.07 439.50,329.90C441.20,335.73 443.37,342.53 445.30,350.30C447.23,358.07 449.40,373.58 451.10,376.50C452.80,379.42 454.28,370.72 455.50,367.80C456.72,364.88 457.18,358.03 458.40,359.00C459.62,359.97 461.70,373.20 462.80,373.60C463.90,374.00 463.97,369.03 465.00,361.40C466.03,353.77 467.67,330.03 469.00,327.80C470.33,325.57 471.65,340.60 473.00,348.00C474.35,355.40 475.75,370.87 477.10,372.20C478.45,373.53 479.88,362.73 481.10,356.00C482.32,349.27 483.28,334.48 484.40,331.80C485.52,329.12 486.78,337.20 487.80,339.90C488.82,342.60 489.60,350.23 490.50,348.00C491.40,345.77 492.07,332.10 493.20,326.50C494.33,320.90 496.27,314.85 497.30,314.40C498.33,313.95 498.60,315.53 499.40,323.80C500.20,332.07 501.12,358.63 502.10,364.00C503.08,369.37 504.32,356.00 505.30,356.00C506.28,356.00 506.88,365.33 508.00,364.00C509.12,362.67 510.88,354.25 512.00,348.00C513.12,341.75 513.80,328.30 514.70,326.50C515.60,324.70 516.50,339.45 517.40,337.20C518.30,334.95 519.20,315.70 520.10,313.00C521.00,310.30 521.90,321.45 522.80,321.00C523.70,320.55 524.60,308.95 525.50,310.30C526.40,311.65 527.30,329.98 528.20,329.10C529.10,328.22 529.78,309.47 530.90,305.00C532.02,300.53 533.57,302.30 534.90,302.30C536.23,302.30 537.78,305.45 538.90,305.00C540.02,304.55 540.70,301.63 541.60,299.60C542.50,297.57 543.40,293.03 544.30,292.80C545.20,292.57 545.88,297.75 547.00,298.20C548.12,298.65 549.97,291.23 551.00,295.50C552.03,299.77 552.57,312.60 553.20,323.80C553.83,335.00 554.05,366.28 554.80,362.70C555.55,359.12 556.53,313.72 557.70,302.30C558.87,290.88 560.58,296.25 561.80,294.20C563.02,292.15 563.80,290.77 565.00,290.00C566.20,289.23 568.03,288.62 569.00,289.60C569.97,290.58 570.20,290.97 570.80,295.90C571.40,300.83 572.00,316.20 572.60,319.20C573.20,322.20 573.80,316.88 574.40,313.90C575.00,310.92 575.60,303.10 576.20,301.30C576.80,299.50 577.27,303.40 578.00,303.10C578.73,302.80 579.87,298.60 580.60,299.50C581.33,300.40 581.70,304.62 582.40,308.50C583.10,312.38 584.05,323.70 584.80,322.80C585.55,321.90 586.25,303.98 586.90,303.10C587.55,302.22 588.10,318.70 588.70,317.50C589.30,316.30 589.90,300.55 590.50,295.90C591.10,291.25 591.55,290.05 592.30,289.60C593.05,289.15 594.10,291.85 595.00,293.20C595.90,294.55 596.95,297.85 597.70,297.70C598.45,297.55 598.75,294.40 599.50,292.30C600.25,290.20 601.00,286.45 602.20,285.10C603.40,283.75 605.50,283.90 606.70,284.20C607.90,284.50 608.72,284.05 609.40,286.90C610.08,289.75 610.20,301.30 610.80,301.30C611.40,301.30 612.18,289.45 613.00,286.90C613.82,284.35 614.90,285.10 615.70,286.00C616.50,286.90 617.07,292.30 617.80,292.30C618.53,292.30 619.12,286.95 620.10,286.00C621.08,285.05 622.65,285.55 623.70,286.60C624.75,287.65 625.65,289.25 626.40,292.30C627.15,295.35 627.60,299.97 628.20,304.90C628.80,309.83 629.40,321.90 630.00,321.90C630.60,321.90 631.20,309.83 631.80,304.90C632.40,299.97 633.00,293.95 633.60,292.30C634.20,290.65 634.35,294.55 635.40,295.00C636.45,295.45 638.40,295.45 639.90,295.00C641.40,294.55 643.05,292.90 644.40,292.30C645.75,291.70 646.95,290.50 648.00,291.40C649.05,292.30 649.80,295.45 650.70,297.70C651.60,299.95 652.37,305.20 653.40,304.90C654.43,304.60 655.57,298.45 656.90,295.90C658.23,293.35 660.05,289.75 661.40,289.60C662.75,289.45 663.80,294.55 665.00,295.00C666.20,295.45 667.40,292.30 668.60,292.30C669.80,292.30 671.15,293.95 672.20,295.00C673.25,296.05 674.10,298.45 674.90,298.60C675.70,298.75 676.65,296.35 677.00,295.90" stroke="#b44ba0" />
</g>
<g stroke="#111" stroke-width="1.5" fill="none">
<line x1="65" y1="5.0" x2="70" y2="5.0" /><line x1="65" y1="56.2" x2="70" y2="56.2" /><line x1="65" y1="108.0" x2="70" y2="108.0" /><line x1="65" y1="159.0" x2="70" y2="159.0" /><line x1="65" y1="210.3" x2="70" y2="210.3" /><line x1="65" y1="261.4" x2="70" y2="261.4" /><line x1="65" y1="312.4" x2="70" y2="312.4" /><line x1="65" y1="365.8" x2="70" y2="365.8" /><line x1="134.2" y1="390" x2="134.2" y2="396.6" /><line x1="197.8" y1="390" x2="197.8" y2="396.6" /><line x1="263.9" y1="390" x2="263.9" y2="396.6" /><line x1="392.8" y1="390" x2="392.8" y2="396.6" /><line x1="521.3" y1="390" x2="521.3" y2="396.6" /><line x1="649.6" y1="390" x2="649.6" y2="396.6" />
</g>
<line x1="65" y1="5" x2="677" y2="5" stroke="#000" stroke-width="1.8"/>
<line x1="676.3" y1="4.5" x2="676.3" y2="390.5" stroke="#555" stroke-width="1.4"/>
<line x1="70.2" y1="4.2" x2="70.2" y2="390.5" stroke="#000" stroke-width="1.7"/>
<line x1="69.4" y1="389.9" x2="677" y2="389.9" stroke="#2b2b2b" stroke-width="2"/>
<g font-size="17" stroke="#111" stroke-width="0.3">
<text x="60.4" y="11.0" text-anchor="end">120</text><text x="60.4" y="62.2" text-anchor="end">100</text><text x="60.4" y="114.0" text-anchor="end">80</text><text x="60.4" y="165.0" text-anchor="end">60</text><text x="60.4" y="216.3" text-anchor="end">40</text><text x="60.4" y="267.4" text-anchor="end">20</text><text x="60.4" y="318.4" text-anchor="end">0</text><text x="60.4" y="371.8" text-anchor="end">–20</text>
<text x="134.2" y="414" text-anchor="middle">3,000</text><text x="197.8" y="414" text-anchor="middle">2,500</text><text x="263.9" y="414" text-anchor="middle">2,000</text><text x="392.8" y="414" text-anchor="middle">1,500</text><text x="521.3" y="414" text-anchor="middle">1,000</text><text x="649.6" y="414" text-anchor="middle">500</text>
</g>
<g font-size="17" stroke="#111" stroke-width="0.3">
<text x="201.8" y="20.8">SD4</text><text x="201.8" y="55.8">SD3</text><text x="201.6" y="88.3">SD2</text><text x="201.6" y="107.9">SD1</text><text x="201.2" y="129.4">PM4</text><text x="201.2" y="148.8">PM3</text><text x="201.2" y="170.3">PM2</text><text x="201.2" y="219.6">PM1</text><text x="162.6" y="250.8">Poloxamer 188</text><text x="175" y="283.8">Simvastatin</text>
</g>
<text x="284" y="445.1" font-size="20.8" font-weight="bold" fill="#000">Wavenumber cm<tspan font-size="11" dx="0.2" dy="-7.5">−1</tspan></text>
<text transform="translate(16.4,288.3) rotate(-90)" font-size="21" font-weight="bold" fill="#000">Transmittance (%)</text>
</svg>
</body></html>
